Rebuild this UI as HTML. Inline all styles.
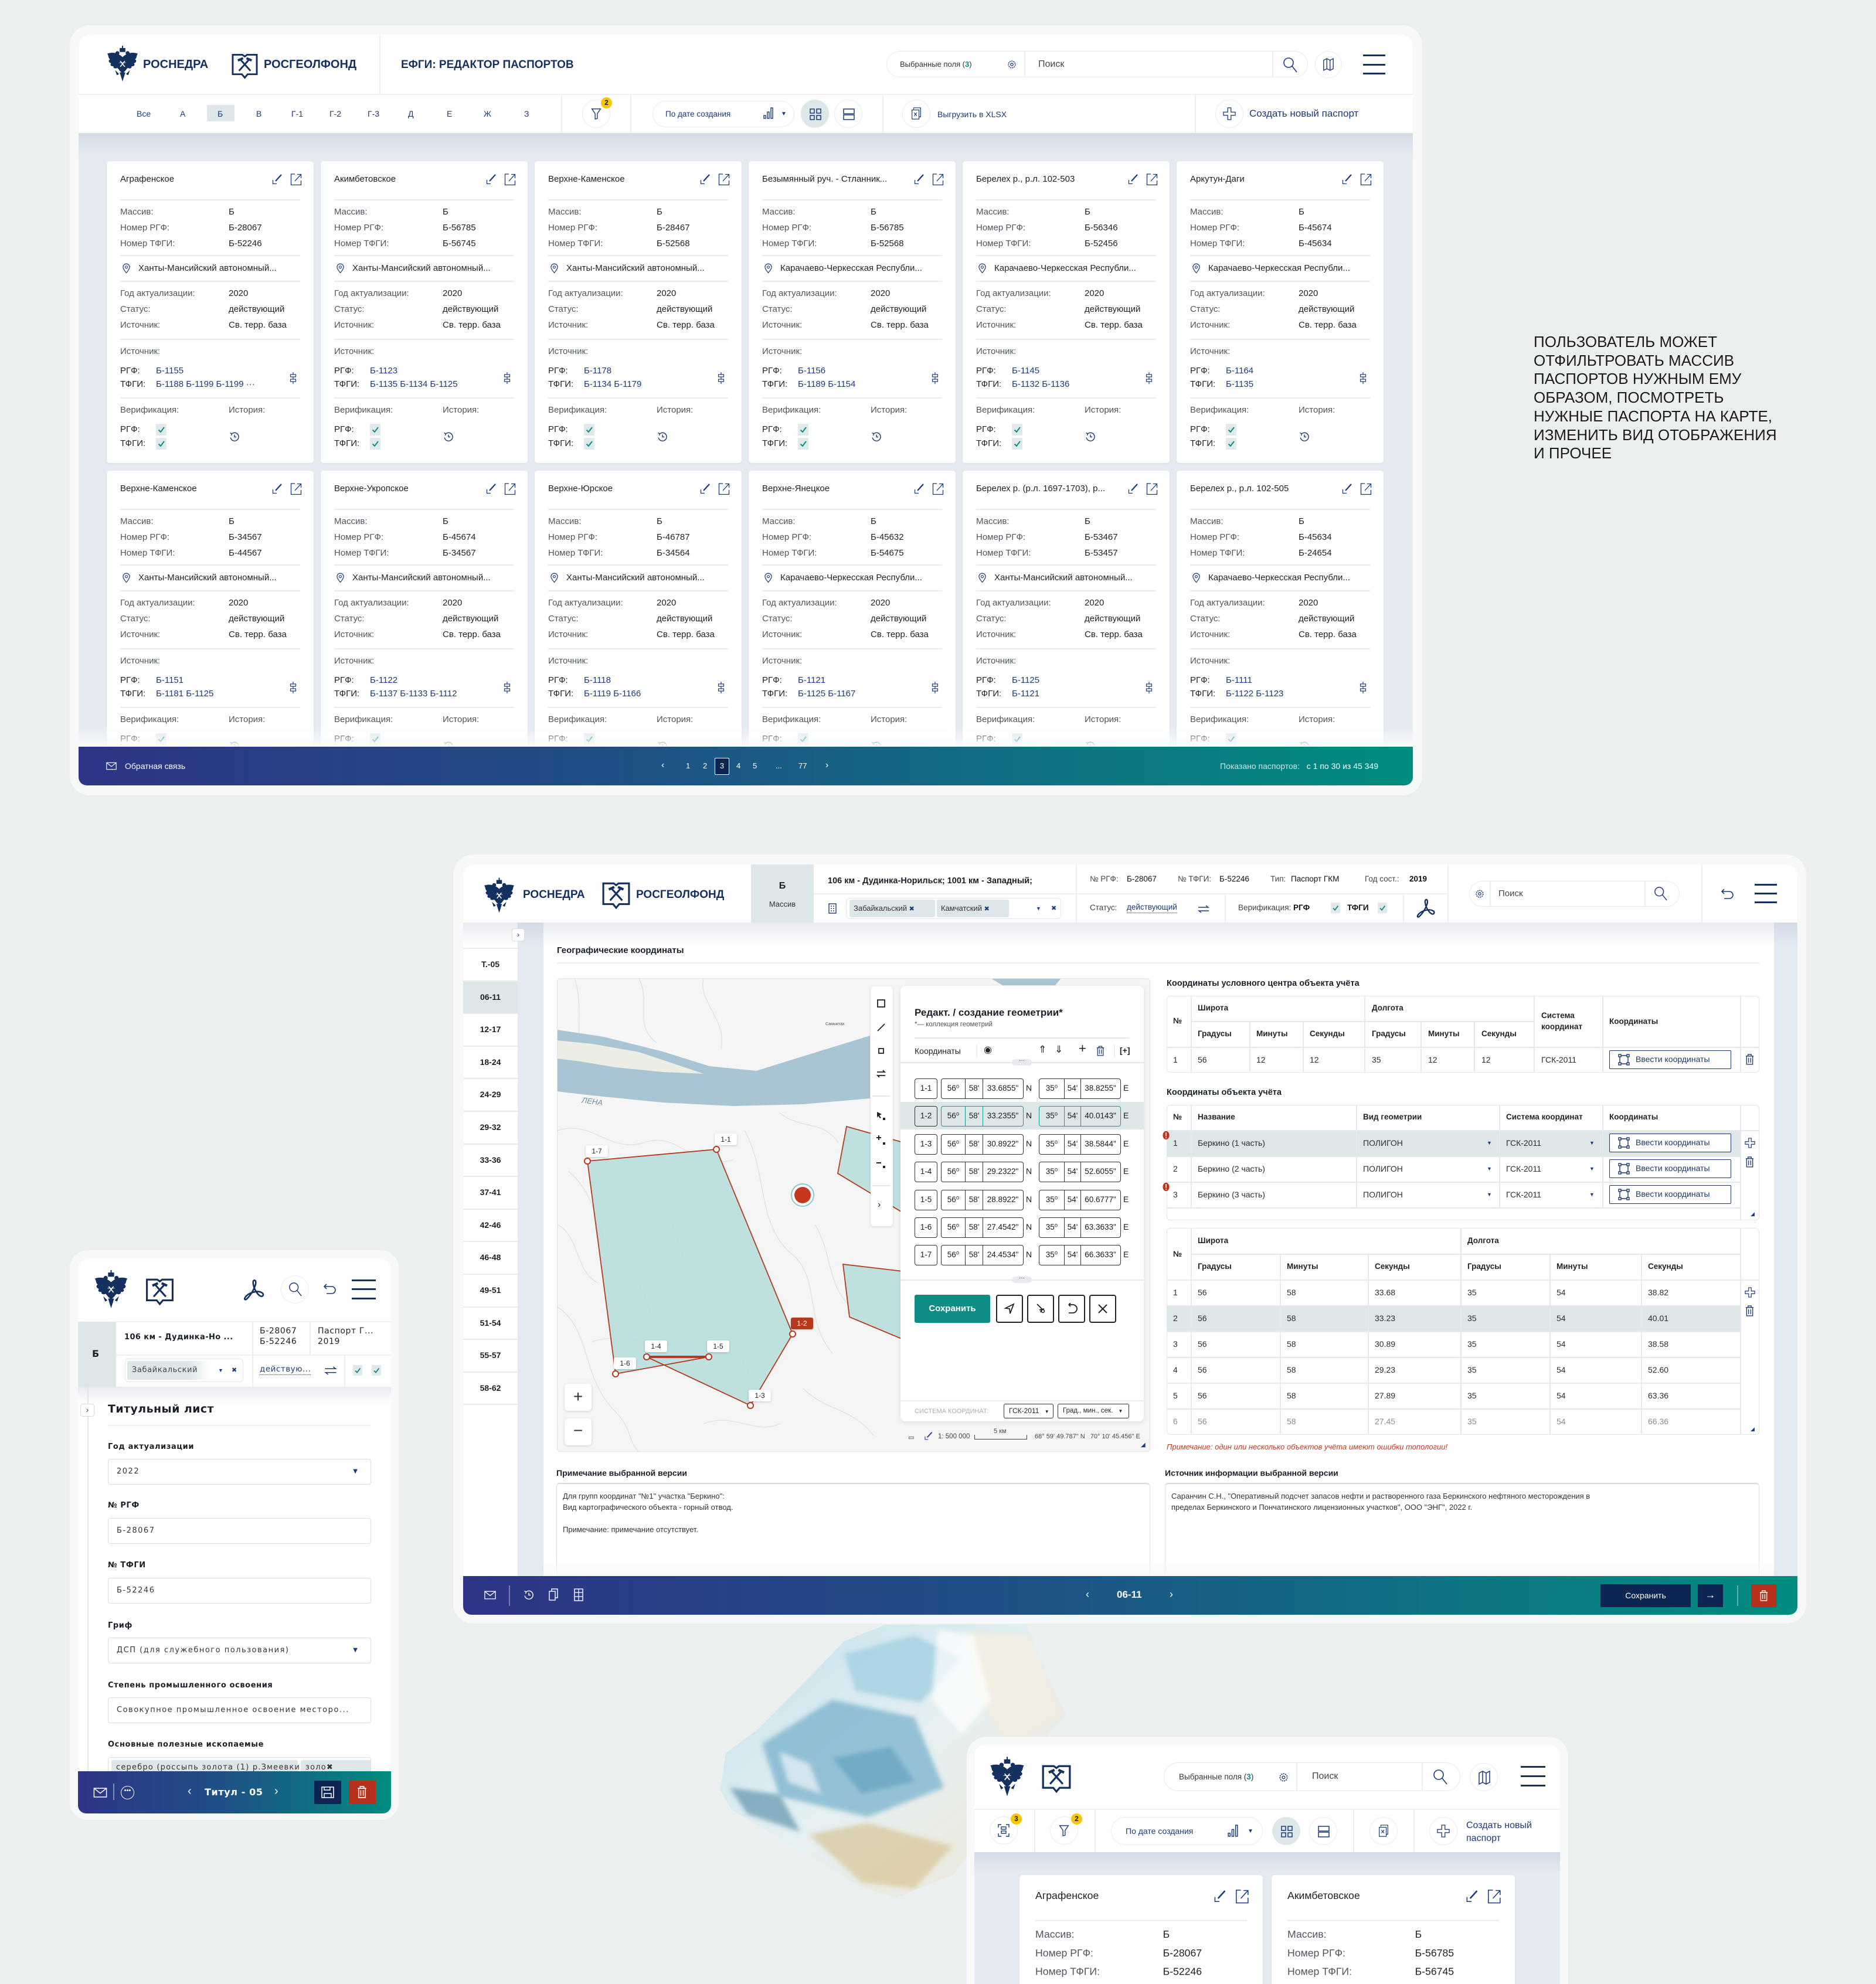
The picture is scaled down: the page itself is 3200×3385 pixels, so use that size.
<!DOCTYPE html>
<html><head><meta charset="utf-8">
<style>
*{box-sizing:border-box;margin:0;padding:0}
html,body{width:3200px;height:3385px;overflow:hidden}
body{background:#ebeff0;font-family:"Liberation Sans","DejaVu Sans",sans-serif;color:#222}
#root{position:relative;width:3200px;height:3385px;overflow:hidden;background:#ebeff0}
.a{position:absolute}
.t{position:absolute;white-space:nowrap;line-height:20px}
.nv{color:#1c3a78}
.card{position:absolute;width:353px;height:515px;background:#fff;border-radius:5px;box-shadow:0 1px 3px rgba(40,60,100,.07)}
.card>*{position:absolute;white-space:nowrap;font-size:15px;line-height:20px;font-weight:normal;margin:0}
.card .ct{left:23px;top:21px;color:#1b1f27}
.card .hl{left:23px;width:307px;height:2px;background:#e9eaed}
.h1{top:65px}.h2{top:160px}.h3{top:204px}.h4{top:303px}.h5{top:403px}
.card .l{left:23px;color:#50555d}
.card .k{left:23px;color:#1d2026}
.card .v{left:208px;color:#1d2026}
.card .lk{left:84px;color:#1c3a78}
.card .lc{left:54px;top:173px;color:#1d2026}
.ya{top:77px}.yb{top:104px}.yc{top:131px}.ye{top:216px}.yf{top:243px}.yg{top:270px}.yh{top:315px}.yi{top:348px}.yj{top:371px}.yk{top:415px}.yl{top:448px}.ym{top:472px}
.card .ie{left:281px;top:21px;width:20px;height:20px}
.card .ix{left:313px;top:20px;width:20px;height:22px}
.card .ip{left:27px;top:174px;width:13px;height:18px}
.card .is{left:311px;top:360px;width:14px;height:20px}
.card .ih{left:209px;top:461px;width:18px;height:18px}
.card .cb{left:84px;width:18px;height:20px}
.sc{transform:scale(1.176);transform-origin:0 0}
.circ{position:absolute;width:48px;height:48px;border:1.5px solid #e8ebef;border-radius:50%;background:#fff}
.circ svg{position:absolute;left:13px;top:12px;width:20px;height:22px}
.badge{position:absolute;width:19px;height:19px;border-radius:50%;background:#f6c800;font-size:12px;font-weight:bold;line-height:19px;text-align:center;color:#1b1b1b}
.vd{position:absolute;width:1.5px;background:#eceef1}
.hd{position:absolute;height:1.5px;background:#eceef1}
.ham{position:absolute;height:3px;background:#14305e}
.sb{position:absolute;left:790px;width:93px;text-align:center;font-size:14px;font-weight:bold;line-height:20px;color:#1b1f27}
.sl{position:absolute;left:790px;width:93px;height:1.5px;background:#e6e9ee}
.tx{position:absolute;white-space:nowrap;font-size:14px;line-height:18px;color:#2a2d33}
.th{font-weight:bold;color:#1f2228;font-size:13.5px}
.gl{position:absolute;background:#e5e8ee}
.vb{position:absolute;height:32px;width:208px;border:1.5px solid #1c3768;border-radius:2px;font-size:14px;color:#1c3768;line-height:29px;padding-left:44px;white-space:nowrap;background:#fff}
.vb svg{position:absolute;left:14px;top:5px;width:20px;height:20px}
.er{position:absolute;left:1560px;height:35px;width:370px;font-size:13.5px;color:#1b1b1b}
.er .b1{position:absolute;left:0;top:0;width:39px;height:35px;border:1.5px solid #333;border-radius:4px;text-align:center;line-height:32px}
.er .bx{position:absolute;top:0;height:35px;border:1.5px solid #333;border-radius:4px;display:flex;line-height:32px}
.er .bx i{font-style:normal;display:block;text-align:center;border-left:1.5px solid #333}
.er .bx i:first-child{border-left:none}
.er em{position:absolute;font-style:normal;line-height:32px;font-size:14px}
.er.hi .bx{border-color:#169a92}
.er.hi .bx i{border-color:#169a92}
.ib{position:absolute;top:2209px;width:46px;height:48px;border:2px solid #222;border-radius:4px;background:#fff}
.ib svg{position:absolute;left:11px;top:12px;width:20px;height:20px}
.lbx{position:absolute;width:38px;height:20px;background:#fff;border-radius:3px;box-shadow:0 1px 3px rgba(0,0,0,.2);font-size:12px;line-height:20px;text-align:center;color:#222}
.m{font-family:"DejaVu Sans","Liberation Sans",sans-serif}
.ml{position:absolute;left:184px;font-size:13px;font-weight:bold;letter-spacing:.6px;color:#1b1f27;white-space:nowrap;line-height:18px}
.mi{position:absolute;left:184px;width:449px;height:44px;border:1.5px solid #dadde5;border-radius:4px;background:#fff;font-size:13px;letter-spacing:1.5px;line-height:41px;padding-left:14px;color:#333;white-space:nowrap;overflow:hidden}
.dd{position:absolute;right:22px;top:0;font-size:10px;color:#1c3a78;letter-spacing:0}
</style></head><body>
<div id="root">
<svg width="0" height="0" style="position:absolute">
<defs>
<symbol id="ie" viewBox="0 0 20 20"><path d="M7 13 L17 2" stroke="#1c3a78" stroke-width="2.2" fill="none"/><path d="M2.5 11 V17.5 H9" stroke="#1c3a78" stroke-width="1.3" fill="none"/></symbol>
<symbol id="ix" viewBox="0 0 20 22"><path d="M8 2 H1.5 V20.5 H18.5 V13" stroke="#1c3a78" stroke-width="1.3" fill="none"/><path d="M8 14 L18 3 M12 2.5 H18.5 V9" stroke="#1c3a78" stroke-width="1.3" fill="none"/></symbol>
<symbol id="ip" viewBox="0 0 14 18"><path d="M7 17 C7 17 1 10.5 1 6.5 A6 6 0 0 1 13 6.5 C13 10.5 7 17 7 17Z" fill="none" stroke="#1c3a78" stroke-width="1.3"/><circle cx="7" cy="6.5" r="2.2" fill="none" stroke="#1c3a78" stroke-width="1.2"/></symbol>
<symbol id="is" viewBox="0 0 14 20"><path d="M7 0 V20" stroke="#1c3a78" stroke-width="1.2"/><rect x="2.5" y="4" width="9" height="4" fill="#fff" stroke="#1c3a78" stroke-width="1.2"/><rect x="2.5" y="12" width="9" height="4" fill="#fff" stroke="#1c3a78" stroke-width="1.2"/></symbol>
<symbol id="ih" viewBox="0 0 18 18"><path d="M4.5 4 A7 7 0 1 1 2.2 10.5" fill="none" stroke="#1c3a78" stroke-width="1.4"/><path d="M1.5 2.5 L4.5 4 L3.5 7" fill="none" stroke="#1c3a78" stroke-width="1.4"/><path d="M9 5.5 V9.5 H12" fill="none" stroke="#1c3a78" stroke-width="1.4"/></symbol>
<symbol id="cb" viewBox="0 0 18 20"><rect width="18" height="20" fill="#e2e9ed"/><path d="M4.5 10.5 L8 14 L14 6" fill="none" stroke="#0b8f85" stroke-width="2"/></symbol>
<symbol id="eagle" viewBox="0 0 60 64"><g fill="#14305e"><path d="M30 20 C24 14 14 10 3 14 C6 17 4 21 8 24 C4 26 6 30 10 31 C7 34 10 37 14 36 C13 40 18 41 21 39 C22 42 26 42 28 40 Z"/><path transform="translate(60,0) scale(-1,1)" d="M30 20 C24 14 14 10 3 14 C6 17 4 21 8 24 C4 26 6 30 10 31 C7 34 10 37 14 36 C13 40 18 41 21 39 C22 42 26 42 28 40 Z"/><circle cx="21" cy="13" r="3.5"/><circle cx="39" cy="13" r="3.5"/><path d="M25 4 H35 V11 H25 Z"/><rect x="29" y="0" width="2" height="5"/><path d="M22 21 H38 V37 C38 44 30 48 30 48 C30 48 22 44 22 37 Z"/><path d="M25 47 L30 63 L35 47 Z"/><path d="M17 43 L24 50 L20 52 Z M43 43 L36 50 L40 52 Z"/></g><path d="M26 27 L34 37 M34 27 L26 37" stroke="#fff" stroke-width="1.6"/><path d="M24 30 H36" stroke="#fff" stroke-width=".8"/></symbol>
<symbol id="rgf" viewBox="0 0 46 46"><path d="M2 3 H19 L23 6 L27 3 H44 V37 H28 L23 43 L18 37 H2 Z" fill="none" stroke="#14305e" stroke-width="3"/><path d="M13 31 L30 12 M33 31 L16 12" stroke="#14305e" stroke-width="3"/><path d="M26 9 L35 13 M11 13 L20 9" stroke="#14305e" stroke-width="4"/></symbol>
<symbol id="srch" viewBox="0 0 26 28"><circle cx="10" cy="10" r="8" fill="none" stroke="#1c3a78" stroke-width="1.6"/><path d="M16 16 L24 26" stroke="#1c3a78" stroke-width="1.6"/></symbol>
<symbol id="map" viewBox="0 0 22 24"><path d="M2 4 L8 1 L14 4 L20 1 V20 L14 23 L8 20 L2 23Z M8 1 V20 M14 4 V23" fill="none" stroke="#1c3a78" stroke-width="1.5"/></symbol>
<symbol id="gear" viewBox="0 0 16 16"><circle cx="8" cy="8" r="5.8" fill="none" stroke="#1c3a78" stroke-width="1.6" stroke-dasharray="2 1.3"/><circle cx="8" cy="8" r="2.2" fill="none" stroke="#1c3a78" stroke-width="1.3"/></symbol>
<symbol id="flt" viewBox="0 0 20 24"><path d="M2 3 H18 L12 12 V21 L8 22 V12 Z" fill="none" stroke="#1c3a78" stroke-width="1.5"/></symbol>
<symbol id="grid" viewBox="0 0 20 20"><g fill="none" stroke="#1c3a78" stroke-width="1.5"><rect x="1" y="1" width="7" height="7"/><rect x="12" y="1" width="7" height="7"/><rect x="1" y="12" width="7" height="7"/><rect x="12" y="12" width="7" height="7"/></g></symbol>
<symbol id="list" viewBox="0 0 20 20"><g fill="none" stroke="#1c3a78" stroke-width="1.5"><rect x="1" y="1" width="18" height="8"/><rect x="1" y="11" width="18" height="8"/></g></symbol>
<symbol id="xls" viewBox="0 0 20 24"><g fill="none" stroke="#1c3a78" stroke-width="1.3"><path d="M5 4 V1 H18 V18 H15"/><rect x="2" y="5" width="13" height="17"/><path d="M6 10 L11 16 M11 10 L6 16"/></g></symbol>
<symbol id="plus" viewBox="0 0 24 24"><path d="M9 1 H15 V9 H23 V15 H15 V23 H9 V15 H1 V9 H9 Z" fill="none" stroke="#1c3a78" stroke-width="1.4"/></symbol>
<symbol id="bars" viewBox="0 0 18 20"><g fill="none" stroke="#1c3a78" stroke-width="1.4"><rect x="1" y="14" width="3" height="5"/><rect x="7" y="8" width="3" height="11"/><rect x="13" y="1" width="3" height="18"/></g></symbol>
<symbol id="env" viewBox="0 0 22 16"><rect x="1" y="1" width="20" height="14" fill="none" stroke="#fff" stroke-width="1.4"/><path d="M1 1 L11 9 L21 1" fill="none" stroke="#fff" stroke-width="1.4"/></symbol>
<symbol id="trash" viewBox="0 0 16 20"><g fill="none" stroke="#1c3a78" stroke-width="1.4"><path d="M1 4 H15 M5 4 V1 H11 V4"/><rect x="2.5" y="4" width="11" height="15"/><path d="M6 7 V16 M10 7 V16"/></g></symbol>
<symbol id="trashw" viewBox="0 0 16 20"><g fill="none" stroke="#fff" stroke-width="1.5"><path d="M1 4 H15 M5 4 V1 H11 V4"/><rect x="2.5" y="4" width="11" height="15"/><path d="M6 7 V16 M10 7 V16"/></g></symbol>
<symbol id="undo" viewBox="0 0 24 22"><path d="M6 2 L2 6 L6 10 M2 6 H15 A6 6 0 0 1 15 18 H6" fill="none" stroke="#1c3a78" stroke-width="1.6"/></symbol>
<symbol id="pdf" viewBox="0 0 40 40"><path d="M7 37 C1 39 5 29 18 25 C31 21 39 27 35 31 C31 35 21 23 19 11 C17 2 25 2 23 11 C21 19 14 31 7 37Z" fill="none" stroke="#14305e" stroke-width="2.6"/></symbol>
<symbol id="swap" viewBox="0 0 20 14"><path d="M1 4 H18 L14 1 M19 10 H2 L6 13" fill="none" stroke="#1c3a78" stroke-width="1.4"/></symbol>
<symbol id="bld" viewBox="0 0 14 18"><rect x="1" y="1" width="12" height="16" fill="none" stroke="#1c3a78" stroke-width="1.4"/><path d="M4 5 H6 M8 5 H10 M4 9 H6 M8 9 H10 M4 13 H6 M8 13 H10" stroke="#1c3a78" stroke-width="1.6"/></symbol>
<symbol id="vk" viewBox="0 0 20 20"><g fill="none" stroke="#1c3768" stroke-width="1.4"><rect x="1" y="1" width="4" height="4"/><rect x="15" y="1" width="4" height="4"/><rect x="1" y="15" width="4" height="4"/><rect x="15" y="15" width="4" height="4"/><path d="M5 3 H15 M5 17 H15 M3 5 V15 M17 5 V15"/></g></symbol>
<symbol id="err" viewBox="0 0 14 18"><ellipse cx="7" cy="9" rx="6.5" ry="8.5" fill="#c2331b"/><path d="M7 3.5 V11" stroke="#fff" stroke-width="2"/><circle cx="7" cy="14" r="1.2" fill="#fff"/></symbol>
<symbol id="plusn" viewBox="0 0 20 20"><path d="M7.5 1 H12.5 V7.5 H19 V12.5 H12.5 V19 H7.5 V12.5 H1 V7.5 H7.5 Z" fill="none" stroke="#1c3a78" stroke-width="1.3"/></symbol>
</defs></svg>

<!-- ================= WINDOW 1 ================= -->
<div class="a" style="left:119px;top:43px;width:2307px;height:1314px;background:#f7f8f8;border-radius:34px"></div>
<div class="a" style="left:134px;top:59px;width:2276px;height:168px;background:#fff;border-radius:20px 20px 0 0"></div>
<div class="hd" style="left:134px;top:160px;width:2276px"></div>
<div class="vd" style="left:647px;top:59px;height:101px"></div>
<svg class="a" style="left:180px;top:78px;width:58px;height:62px"><use href="#eagle"/></svg>
<div class="t" style="left:244px;top:98px;font-size:20px;line-height:24px;font-weight:bold;color:#14305e">РОСНЕДРА</div>
<svg class="a" style="left:395px;top:90px;width:45px;height:46px"><use href="#rgf"/></svg>
<div class="t" style="left:450px;top:98px;font-size:20px;line-height:24px;font-weight:bold;color:#14305e">РОСГЕОЛФОНД</div>
<div class="t" style="left:684px;top:99px;font-size:19px;line-height:24px;font-weight:bold;color:#14305e">ЕФГИ: РЕДАКТОР ПАСПОРТОВ</div>
<div class="a" style="left:1512px;top:87px;width:719px;height:45px;border:1.5px solid #e6e9ee;border-radius:23px"></div>
<div class="t" style="left:1535px;top:100px;font-size:13px;color:#333">Выбранные поля (<span style="color:#0b8f85;font-weight:bold">3</span>)</div>
<svg class="a" style="left:1718px;top:102px;width:16px;height:16px"><use href="#gear"/></svg>
<div class="vd" style="left:1747px;top:88px;height:43px"></div>
<div class="t" style="left:1771px;top:100px;font-size:16px;color:#444">Поиск</div>
<div class="vd" style="left:2170px;top:88px;height:43px"></div>
<svg class="a" style="left:2188px;top:97px;width:26px;height:28px"><use href="#srch"/></svg>
<div class="circ" style="left:2243px;top:87px;width:46px;height:46px"><svg style="left:12px;top:11px"><use href="#map"/></svg></div>
<div class="ham" style="left:2325px;top:93px;width:38px"></div><div class="ham" style="left:2325px;top:109px;width:38px"></div><div class="ham" style="left:2325px;top:124px;width:38px"></div>
<!-- toolbar -->
<div class="a" style="left:353px;top:179px;width:47px;height:28px;background:#dde6e8"></div>
<div class="t nv" style="left:233px;top:184px;font-size:14px">Все</div>
<div class="t nv" style="left:307px;top:184px;font-size:14px">А</div>
<div class="t nv" style="left:371px;top:184px;font-size:14px">Б</div>
<div class="t nv" style="left:437px;top:184px;font-size:14px">В</div>
<div class="t nv" style="left:497px;top:184px;font-size:14px">Г-1</div>
<div class="t nv" style="left:562px;top:184px;font-size:14px">Г-2</div>
<div class="t nv" style="left:627px;top:184px;font-size:14px">Г-3</div>
<div class="t nv" style="left:696px;top:184px;font-size:14px">Д</div>
<div class="t nv" style="left:762px;top:184px;font-size:14px">Е</div>
<div class="t nv" style="left:825px;top:184px;font-size:14px">Ж</div>
<div class="t nv" style="left:894px;top:184px;font-size:14px">З</div>
<div class="vd" style="left:957px;top:162px;height:65px"></div>
<div class="circ" style="left:993px;top:170px"><svg><use href="#flt"/></svg></div>
<div class="badge" style="left:1025px;top:166px">2</div>
<div class="vd" style="left:1075px;top:162px;height:65px"></div>
<div class="a" style="left:1113px;top:172px;width:242px;height:45px;border:1.5px solid #e8ebef;border-radius:23px"></div>
<div class="t nv" style="left:1135px;top:185px;font-size:13.5px">По дате создания</div>
<svg class="a" style="left:1302px;top:183px;width:18px;height:20px"><use href="#bars"/></svg>
<div class="t nv" style="left:1332px;top:185px;font-size:10px">▼</div>
<div class="circ" style="left:1366px;top:170px;background:#dde6e8;border-color:#dde6e8"><svg style="left:14px;top:14px;width:20px;height:20px"><use href="#grid"/></svg></div>
<div class="circ" style="left:1423px;top:170px"><svg style="left:14px;top:14px;width:20px;height:20px"><use href="#list"/></svg></div>
<div class="vd" style="left:1505px;top:162px;height:65px"></div>
<div class="circ" style="left:1539px;top:170px"><svg><use href="#xls"/></svg></div>
<div class="t nv" style="left:1599px;top:185px;font-size:14px">Выгрузить в XLSX</div>
<div class="vd" style="left:2038px;top:162px;height:65px"></div>
<div class="circ" style="left:2073px;top:170px"><svg style="left:12px;top:12px;width:22px;height:22px"><use href="#plus"/></svg></div>
<div class="t nv" style="left:2131px;top:183px;font-size:17px;line-height:22px">Создать новый паспорт</div>
<!-- card area -->
<div class="a" style="left:134px;top:227px;width:2276px;height:1047px;background:#e6ebf2"></div>
<div class="a" style="left:134px;top:227px;width:2276px;height:40px;background:linear-gradient(#d3dbe6,#e6ebf2)"></div>

<div class="card" style="left:182px;top:275px"><b class="ct">Аграфенское</b><svg class="ie"><use href="#ie"/></svg><svg class="ix"><use href="#ix"/></svg><i class="hl h1"></i><p class="l ya">Массив:</p><p class="v ya">Б</p><p class="l yb">Номер РГФ:</p><p class="v yb">Б-28067</p><p class="l yc">Номер ТФГИ:</p><p class="v yc">Б-52246</p><i class="hl h2"></i><svg class="ip"><use href="#ip"/></svg><p class="lc">Ханты-Мансийский автономный...</p><i class="hl h3"></i><p class="l ye">Год актуализации:</p><p class="v ye">2020</p><p class="l yf">Статус:</p><p class="v yf">действующий</p><p class="l yg">Источник:</p><p class="v yg">Св. терр. база</p><i class="hl h4"></i><p class="l yh">Источник:</p><p class="k yi">РГФ:</p><p class="lk yi">Б-1155</p><p class="k yj">ТФГИ:</p><p class="lk yj">Б-1188 Б-1199 Б-1199 ···</p><svg class="is"><use href="#is"/></svg><i class="hl h5"></i><p class="l yk">Верификация:</p><p class="l yk" style="left:208px">История:</p><p class="k yl">РГФ:</p><svg class="cb yl"><use href="#cb"/></svg><p class="k ym">ТФГИ:</p><svg class="cb ym"><use href="#cb"/></svg><svg class="ih"><use href="#ih"/></svg></div>

<div class="card" style="left:547px;top:275px"><b class="ct">Акимбетовское</b><svg class="ie"><use href="#ie"/></svg><svg class="ix"><use href="#ix"/></svg><i class="hl h1"></i><p class="l ya">Массив:</p><p class="v ya">Б</p><p class="l yb">Номер РГФ:</p><p class="v yb">Б-56785</p><p class="l yc">Номер ТФГИ:</p><p class="v yc">Б-56745</p><i class="hl h2"></i><svg class="ip"><use href="#ip"/></svg><p class="lc">Ханты-Мансийский автономный...</p><i class="hl h3"></i><p class="l ye">Год актуализации:</p><p class="v ye">2020</p><p class="l yf">Статус:</p><p class="v yf">действующий</p><p class="l yg">Источник:</p><p class="v yg">Св. терр. база</p><i class="hl h4"></i><p class="l yh">Источник:</p><p class="k yi">РГФ:</p><p class="lk yi">Б-1123</p><p class="k yj">ТФГИ:</p><p class="lk yj">Б-1135 Б-1134 Б-1125</p><svg class="is"><use href="#is"/></svg><i class="hl h5"></i><p class="l yk">Верификация:</p><p class="l yk" style="left:208px">История:</p><p class="k yl">РГФ:</p><svg class="cb yl"><use href="#cb"/></svg><p class="k ym">ТФГИ:</p><svg class="cb ym"><use href="#cb"/></svg><svg class="ih"><use href="#ih"/></svg></div>

<div class="card" style="left:912px;top:275px"><b class="ct">Верхне-Каменское</b><svg class="ie"><use href="#ie"/></svg><svg class="ix"><use href="#ix"/></svg><i class="hl h1"></i><p class="l ya">Массив:</p><p class="v ya">Б</p><p class="l yb">Номер РГФ:</p><p class="v yb">Б-28467</p><p class="l yc">Номер ТФГИ:</p><p class="v yc">Б-52568</p><i class="hl h2"></i><svg class="ip"><use href="#ip"/></svg><p class="lc">Ханты-Мансийский автономный...</p><i class="hl h3"></i><p class="l ye">Год актуализации:</p><p class="v ye">2020</p><p class="l yf">Статус:</p><p class="v yf">действующий</p><p class="l yg">Источник:</p><p class="v yg">Св. терр. база</p><i class="hl h4"></i><p class="l yh">Источник:</p><p class="k yi">РГФ:</p><p class="lk yi">Б-1178</p><p class="k yj">ТФГИ:</p><p class="lk yj">Б-1134 Б-1179</p><svg class="is"><use href="#is"/></svg><i class="hl h5"></i><p class="l yk">Верификация:</p><p class="l yk" style="left:208px">История:</p><p class="k yl">РГФ:</p><svg class="cb yl"><use href="#cb"/></svg><p class="k ym">ТФГИ:</p><svg class="cb ym"><use href="#cb"/></svg><svg class="ih"><use href="#ih"/></svg></div>

<div class="card" style="left:1277px;top:275px"><b class="ct">Безымянный руч. - Стланник...</b><svg class="ie"><use href="#ie"/></svg><svg class="ix"><use href="#ix"/></svg><i class="hl h1"></i><p class="l ya">Массив:</p><p class="v ya">Б</p><p class="l yb">Номер РГФ:</p><p class="v yb">Б-56785</p><p class="l yc">Номер ТФГИ:</p><p class="v yc">Б-52568</p><i class="hl h2"></i><svg class="ip"><use href="#ip"/></svg><p class="lc">Карачаево-Черкесская Республи...</p><i class="hl h3"></i><p class="l ye">Год актуализации:</p><p class="v ye">2020</p><p class="l yf">Статус:</p><p class="v yf">действующий</p><p class="l yg">Источник:</p><p class="v yg">Св. терр. база</p><i class="hl h4"></i><p class="l yh">Источник:</p><p class="k yi">РГФ:</p><p class="lk yi">Б-1156</p><p class="k yj">ТФГИ:</p><p class="lk yj">Б-1189 Б-1154</p><svg class="is"><use href="#is"/></svg><i class="hl h5"></i><p class="l yk">Верификация:</p><p class="l yk" style="left:208px">История:</p><p class="k yl">РГФ:</p><svg class="cb yl"><use href="#cb"/></svg><p class="k ym">ТФГИ:</p><svg class="cb ym"><use href="#cb"/></svg><svg class="ih"><use href="#ih"/></svg></div>

<div class="card" style="left:1642px;top:275px"><b class="ct">Берелех р., р.л. 102-503</b><svg class="ie"><use href="#ie"/></svg><svg class="ix"><use href="#ix"/></svg><i class="hl h1"></i><p class="l ya">Массив:</p><p class="v ya">Б</p><p class="l yb">Номер РГФ:</p><p class="v yb">Б-56346</p><p class="l yc">Номер ТФГИ:</p><p class="v yc">Б-52456</p><i class="hl h2"></i><svg class="ip"><use href="#ip"/></svg><p class="lc">Карачаево-Черкесская Республи...</p><i class="hl h3"></i><p class="l ye">Год актуализации:</p><p class="v ye">2020</p><p class="l yf">Статус:</p><p class="v yf">действующий</p><p class="l yg">Источник:</p><p class="v yg">Св. терр. база</p><i class="hl h4"></i><p class="l yh">Источник:</p><p class="k yi">РГФ:</p><p class="lk yi">Б-1145</p><p class="k yj">ТФГИ:</p><p class="lk yj">Б-1132 Б-1136</p><svg class="is"><use href="#is"/></svg><i class="hl h5"></i><p class="l yk">Верификация:</p><p class="l yk" style="left:208px">История:</p><p class="k yl">РГФ:</p><svg class="cb yl"><use href="#cb"/></svg><p class="k ym">ТФГИ:</p><svg class="cb ym"><use href="#cb"/></svg><svg class="ih"><use href="#ih"/></svg></div>

<div class="card" style="left:2007px;top:275px"><b class="ct">Аркутун-Даги</b><svg class="ie"><use href="#ie"/></svg><svg class="ix"><use href="#ix"/></svg><i class="hl h1"></i><p class="l ya">Массив:</p><p class="v ya">Б</p><p class="l yb">Номер РГФ:</p><p class="v yb">Б-45674</p><p class="l yc">Номер ТФГИ:</p><p class="v yc">Б-45634</p><i class="hl h2"></i><svg class="ip"><use href="#ip"/></svg><p class="lc">Карачаево-Черкесская Республи...</p><i class="hl h3"></i><p class="l ye">Год актуализации:</p><p class="v ye">2020</p><p class="l yf">Статус:</p><p class="v yf">действующий</p><p class="l yg">Источник:</p><p class="v yg">Св. терр. база</p><i class="hl h4"></i><p class="l yh">Источник:</p><p class="k yi">РГФ:</p><p class="lk yi">Б-1164</p><p class="k yj">ТФГИ:</p><p class="lk yj">Б-1135</p><svg class="is"><use href="#is"/></svg><i class="hl h5"></i><p class="l yk">Верификация:</p><p class="l yk" style="left:208px">История:</p><p class="k yl">РГФ:</p><svg class="cb yl"><use href="#cb"/></svg><p class="k ym">ТФГИ:</p><svg class="cb ym"><use href="#cb"/></svg><svg class="ih"><use href="#ih"/></svg></div>

<div class="card" style="left:182px;top:803px"><b class="ct">Верхне-Каменское</b><svg class="ie"><use href="#ie"/></svg><svg class="ix"><use href="#ix"/></svg><i class="hl h1"></i><p class="l ya">Массив:</p><p class="v ya">Б</p><p class="l yb">Номер РГФ:</p><p class="v yb">Б-34567</p><p class="l yc">Номер ТФГИ:</p><p class="v yc">Б-44567</p><i class="hl h2"></i><svg class="ip"><use href="#ip"/></svg><p class="lc">Ханты-Мансийский автономный...</p><i class="hl h3"></i><p class="l ye">Год актуализации:</p><p class="v ye">2020</p><p class="l yf">Статус:</p><p class="v yf">действующий</p><p class="l yg">Источник:</p><p class="v yg">Св. терр. база</p><i class="hl h4"></i><p class="l yh">Источник:</p><p class="k yi">РГФ:</p><p class="lk yi">Б-1151</p><p class="k yj">ТФГИ:</p><p class="lk yj">Б-1181 Б-1125</p><svg class="is"><use href="#is"/></svg><i class="hl h5"></i><p class="l yk">Верификация:</p><p class="l yk" style="left:208px">История:</p><p class="k yl">РГФ:</p><svg class="cb yl"><use href="#cb"/></svg><p class="k ym">ТФГИ:</p><svg class="cb ym"><use href="#cb"/></svg><svg class="ih"><use href="#ih"/></svg></div>

<div class="card" style="left:547px;top:803px"><b class="ct">Верхне-Укропское</b><svg class="ie"><use href="#ie"/></svg><svg class="ix"><use href="#ix"/></svg><i class="hl h1"></i><p class="l ya">Массив:</p><p class="v ya">Б</p><p class="l yb">Номер РГФ:</p><p class="v yb">Б-45674</p><p class="l yc">Номер ТФГИ:</p><p class="v yc">Б-34567</p><i class="hl h2"></i><svg class="ip"><use href="#ip"/></svg><p class="lc">Ханты-Мансийский автономный...</p><i class="hl h3"></i><p class="l ye">Год актуализации:</p><p class="v ye">2020</p><p class="l yf">Статус:</p><p class="v yf">действующий</p><p class="l yg">Источник:</p><p class="v yg">Св. терр. база</p><i class="hl h4"></i><p class="l yh">Источник:</p><p class="k yi">РГФ:</p><p class="lk yi">Б-1122</p><p class="k yj">ТФГИ:</p><p class="lk yj">Б-1137 Б-1133 Б-1112</p><svg class="is"><use href="#is"/></svg><i class="hl h5"></i><p class="l yk">Верификация:</p><p class="l yk" style="left:208px">История:</p><p class="k yl">РГФ:</p><svg class="cb yl"><use href="#cb"/></svg><p class="k ym">ТФГИ:</p><svg class="cb ym"><use href="#cb"/></svg><svg class="ih"><use href="#ih"/></svg></div>

<div class="card" style="left:912px;top:803px"><b class="ct">Верхне-Юрское</b><svg class="ie"><use href="#ie"/></svg><svg class="ix"><use href="#ix"/></svg><i class="hl h1"></i><p class="l ya">Массив:</p><p class="v ya">Б</p><p class="l yb">Номер РГФ:</p><p class="v yb">Б-46787</p><p class="l yc">Номер ТФГИ:</p><p class="v yc">Б-34564</p><i class="hl h2"></i><svg class="ip"><use href="#ip"/></svg><p class="lc">Ханты-Мансийский автономный...</p><i class="hl h3"></i><p class="l ye">Год актуализации:</p><p class="v ye">2020</p><p class="l yf">Статус:</p><p class="v yf">действующий</p><p class="l yg">Источник:</p><p class="v yg">Св. терр. база</p><i class="hl h4"></i><p class="l yh">Источник:</p><p class="k yi">РГФ:</p><p class="lk yi">Б-1118</p><p class="k yj">ТФГИ:</p><p class="lk yj">Б-1119 Б-1166</p><svg class="is"><use href="#is"/></svg><i class="hl h5"></i><p class="l yk">Верификация:</p><p class="l yk" style="left:208px">История:</p><p class="k yl">РГФ:</p><svg class="cb yl"><use href="#cb"/></svg><p class="k ym">ТФГИ:</p><svg class="cb ym"><use href="#cb"/></svg><svg class="ih"><use href="#ih"/></svg></div>

<div class="card" style="left:1277px;top:803px"><b class="ct">Верхне-Янецкое</b><svg class="ie"><use href="#ie"/></svg><svg class="ix"><use href="#ix"/></svg><i class="hl h1"></i><p class="l ya">Массив:</p><p class="v ya">Б</p><p class="l yb">Номер РГФ:</p><p class="v yb">Б-45632</p><p class="l yc">Номер ТФГИ:</p><p class="v yc">Б-54675</p><i class="hl h2"></i><svg class="ip"><use href="#ip"/></svg><p class="lc">Карачаево-Черкесская Республи...</p><i class="hl h3"></i><p class="l ye">Год актуализации:</p><p class="v ye">2020</p><p class="l yf">Статус:</p><p class="v yf">действующий</p><p class="l yg">Источник:</p><p class="v yg">Св. терр. база</p><i class="hl h4"></i><p class="l yh">Источник:</p><p class="k yi">РГФ:</p><p class="lk yi">Б-1121</p><p class="k yj">ТФГИ:</p><p class="lk yj">Б-1125 Б-1167</p><svg class="is"><use href="#is"/></svg><i class="hl h5"></i><p class="l yk">Верификация:</p><p class="l yk" style="left:208px">История:</p><p class="k yl">РГФ:</p><svg class="cb yl"><use href="#cb"/></svg><p class="k ym">ТФГИ:</p><svg class="cb ym"><use href="#cb"/></svg><svg class="ih"><use href="#ih"/></svg></div>

<div class="card" style="left:1642px;top:803px"><b class="ct">Берелех р. (р.л. 1697-1703), р...</b><svg class="ie"><use href="#ie"/></svg><svg class="ix"><use href="#ix"/></svg><i class="hl h1"></i><p class="l ya">Массив:</p><p class="v ya">Б</p><p class="l yb">Номер РГФ:</p><p class="v yb">Б-53467</p><p class="l yc">Номер ТФГИ:</p><p class="v yc">Б-53457</p><i class="hl h2"></i><svg class="ip"><use href="#ip"/></svg><p class="lc">Ханты-Мансийский автономный...</p><i class="hl h3"></i><p class="l ye">Год актуализации:</p><p class="v ye">2020</p><p class="l yf">Статус:</p><p class="v yf">действующий</p><p class="l yg">Источник:</p><p class="v yg">Св. терр. база</p><i class="hl h4"></i><p class="l yh">Источник:</p><p class="k yi">РГФ:</p><p class="lk yi">Б-1125</p><p class="k yj">ТФГИ:</p><p class="lk yj">Б-1121</p><svg class="is"><use href="#is"/></svg><i class="hl h5"></i><p class="l yk">Верификация:</p><p class="l yk" style="left:208px">История:</p><p class="k yl">РГФ:</p><svg class="cb yl"><use href="#cb"/></svg><p class="k ym">ТФГИ:</p><svg class="cb ym"><use href="#cb"/></svg><svg class="ih"><use href="#ih"/></svg></div>

<div class="card" style="left:2007px;top:803px"><b class="ct">Берелех р., р.л. 102-505</b><svg class="ie"><use href="#ie"/></svg><svg class="ix"><use href="#ix"/></svg><i class="hl h1"></i><p class="l ya">Массив:</p><p class="v ya">Б</p><p class="l yb">Номер РГФ:</p><p class="v yb">Б-45634</p><p class="l yc">Номер ТФГИ:</p><p class="v yc">Б-24654</p><i class="hl h2"></i><svg class="ip"><use href="#ip"/></svg><p class="lc">Карачаево-Черкесская Республи...</p><i class="hl h3"></i><p class="l ye">Год актуализации:</p><p class="v ye">2020</p><p class="l yf">Статус:</p><p class="v yf">действующий</p><p class="l yg">Источник:</p><p class="v yg">Св. терр. база</p><i class="hl h4"></i><p class="l yh">Источник:</p><p class="k yi">РГФ:</p><p class="lk yi">Б-1111</p><p class="k yj">ТФГИ:</p><p class="lk yj">Б-1122 Б-1123</p><svg class="is"><use href="#is"/></svg><i class="hl h5"></i><p class="l yk">Верификация:</p><p class="l yk" style="left:208px">История:</p><p class="k yl">РГФ:</p><svg class="cb yl"><use href="#cb"/></svg><p class="k ym">ТФГИ:</p><svg class="cb ym"><use href="#cb"/></svg><svg class="ih"><use href="#ih"/></svg></div>

<div class="a" style="left:134px;top:1240px;width:2276px;height:34px;background:linear-gradient(rgba(255,255,255,0),rgba(250,251,252,.95))"></div>
<div class="a" style="left:134px;top:1274px;width:2276px;height:66px;background:linear-gradient(90deg,#2e3586,#1f4f86 40%,#0e7583 75%,#008c80);border-radius:0 0 14px 14px"></div>
<svg class="a" style="left:181px;top:1300px;width:18px;height:14px"><use href="#env"/></svg>
<div class="t" style="left:213px;top:1297px;font-size:14px;color:#fff">Обратная связь</div>
<div class="t" style="left:1128px;top:1296px;font-size:16px;color:#fff">‹</div>
<div class="t" style="left:1170px;top:1297px;font-size:13px;color:#fff">1</div>
<div class="t" style="left:1199px;top:1297px;font-size:13px;color:#fff">2</div>
<div class="a" style="left:1219px;top:1293px;width:25px;height:29px;background:#0c2450;border:1.5px solid #fff;border-radius:2px;color:#fff;font-size:13px;line-height:26px;text-align:center">3</div>
<div class="t" style="left:1256px;top:1297px;font-size:13px;color:#fff">4</div>
<div class="t" style="left:1284px;top:1297px;font-size:13px;color:#fff">5</div>
<div class="t" style="left:1323px;top:1297px;font-size:13px;color:#fff">...</div>
<div class="t" style="left:1362px;top:1297px;font-size:13px;color:#fff">77</div>
<div class="t" style="left:1408px;top:1296px;font-size:16px;color:#fff">›</div>
<div class="t" style="left:2081px;top:1297px;font-size:14px;color:rgba(255,255,255,.8)">Показано паспортов: <span style="color:#fff">&nbsp;&nbsp;с 1 по 30 из 45 349</span></div>

<!-- right description -->
<div class="a" style="left:2616px;top:568px;width:520px;font-size:26px;line-height:31.7px;color:#1b1b1b;white-space:nowrap">ПОЛЬЗОВАТЕЛЬ МОЖЕТ<br>ОТФИЛЬТРОВАТЬ МАССИВ<br>ПАСПОРТОВ НУЖНЫМ ЕМУ<br>ОБРАЗОМ, ПОСМОТРЕТЬ<br>НУЖНЫЕ ПАСПОРТА НА КАРТЕ,<br>ИЗМЕНИТЬ ВИД ОТОБРАЖЕНИЯ<br>И ПРОЧЕЕ</div>

<!-- ================= ROCK ================= -->
<svg class="a" style="left:1220px;top:2772px;width:610px;height:480px" viewBox="1220 2772 610 480">
<defs><linearGradient id="rk" x1="0" y1="0" x2="1" y2="1"><stop offset="0" stop-color="#bfe0ec"/><stop offset=".5" stop-color="#e6f0f2"/><stop offset="1" stop-color="#efe6d2"/></linearGradient>
<filter id="bl" x="-10%" y="-10%" width="120%" height="120%"><feGaussianBlur stdDeviation="4"/></filter></defs>
<path d="M1390 2852 L1440 2800 L1510 2772 L1751 2772 L1796 2880 L1818 2927 L1760 2990 L1700 3100 L1626 3198 L1528 3238 L1466 3218 L1367 3159 L1247 3087 L1229 3055 L1238 2991 L1292 2951 Z" fill="url(#rk)"/>
<clipPath id="rc"><path d="M1390 2852 L1440 2800 L1510 2772 L1751 2772 L1796 2880 L1818 2927 L1760 2990 L1700 3100 L1626 3198 L1528 3238 L1466 3218 L1367 3159 L1247 3087 L1229 3055 L1238 2991 L1292 2951 Z"/></clipPath>
<g clip-path="url(#rc)" filter="url(#bl)">
<path d="M1300 2975 L1420 2900 L1560 2930 L1610 3050 L1480 3100 L1330 3065 Z" fill="#78b2cc" opacity=".75"/>
<path d="M1440 2822 L1560 2790 L1640 2830 L1570 2905 L1460 2885 Z" fill="#9fcde0" opacity=".75"/>
<path d="M1245 3050 L1330 3062 L1365 3125 L1275 3095 Z" fill="#3e7b9a" opacity=".55"/>
<path d="M1420 3000 L1520 2980 L1560 3040 L1470 3060 Z" fill="#5c9bbb" opacity=".6"/>
<path d="M1380 3130 L1480 3110 L1625 3150 L1560 3222 L1470 3212 Z" fill="#d4b982" opacity=".55"/>
<path d="M1650 2785 L1755 2790 L1812 2925 L1720 2985 L1665 2880 Z" fill="#f2ece0" opacity=".9"/>
<path d="M1600 2780 L1660 2790 L1690 2900 L1640 2960 L1590 2900 Z" fill="#ffffff" opacity=".7"/>
<path d="M1330 2990 L1380 3010 L1400 3060 L1345 3040 Z" fill="#ffffff" opacity=".6"/>
</g>
</svg>

<!-- ================= WINDOW 2 ================= -->
<div class="a" style="left:773px;top:1458px;width:2308px;height:1312px;background:#f7f8f8;border-radius:34px"></div>
<div class="a" style="left:790px;top:1475px;width:2276px;height:99px;background:#fff;border-radius:18px 18px 0 0"></div>
<div class="a" style="left:790px;top:1574px;width:93px;height:1115px;background:#fff"></div>
<div class="a" style="left:883px;top:1574px;width:44px;height:1115px;background:#e4eaf2"></div>
<div class="a" style="left:927px;top:1574px;width:2099px;height:1115px;background:#fff"></div>
<div class="a" style="left:3026px;top:1574px;width:40px;height:1115px;background:#e4eaf2"></div>
<div class="a" style="left:790px;top:1574px;width:2276px;height:40px;background:linear-gradient(rgba(150,160,185,.22),rgba(150,160,185,0))"></div>
<!-- header -->
<svg class="a" style="left:823px;top:1497px;width:57px;height:62px"><use href="#eagle"/></svg>
<div class="t" style="left:892px;top:1515px;font-size:19px;line-height:24px;font-weight:bold;color:#14305e">РОСНЕДРА</div>
<svg class="a" style="left:1027px;top:1504px;width:48px;height:48px"><use href="#rgf"/></svg>
<div class="t" style="left:1085px;top:1515px;font-size:19px;line-height:24px;font-weight:bold;color:#14305e">РОСГЕОЛФОНД</div>
<div class="a" style="left:1281px;top:1475px;width:107px;height:99px;background:#dde6e8"></div>
<div class="t" style="left:1281px;width:107px;text-align:center;top:1502px;font-size:16px;font-weight:bold;color:#1b1f27">Б</div>
<div class="t" style="left:1281px;width:107px;text-align:center;top:1533px;font-size:13px;color:#333">Массив</div>
<div class="t" style="left:1412px;top:1493px;font-size:14.5px;font-weight:bold;color:#1b1f27">106 км - Дудинка-Норильск; 1001 км - Западный;</div>
<div class="hd" style="left:1388px;top:1524px;width:1081px"></div>
<div class="vd" style="left:1835px;top:1475px;height:99px"></div>
<svg class="a" style="left:1413px;top:1541px;width:14px;height:18px"><use href="#bld"/></svg>
<div class="a" style="left:1443px;top:1532px;width:367px;height:36px;border:1px solid #e3e6ea;border-radius:6px"></div>
<div class="a" style="left:1449px;top:1535px;width:146px;height:30px;background:#dde6e8;border-radius:3px"></div>
<div class="a" style="left:1598px;top:1535px;width:123px;height:30px;background:#dde6e8;border-radius:3px"></div>
<div class="t" style="left:1456px;top:1540px;font-size:13px;color:#333">Забайкальский <span style="color:#1c3a78;font-size:11px">✖</span></div>
<div class="t" style="left:1605px;top:1540px;font-size:13px;color:#333">Камчатский <span style="color:#1c3a78;font-size:11px">✖</span></div>
<div class="t" style="left:1767px;top:1540px;font-size:9px;color:#1c3a78">▼</div>
<div class="t" style="left:1793px;top:1540px;font-size:11px;color:#1c3a78">✖</div>
<div class="t" style="left:1859px;top:1490px;font-size:13.5px;color:#444">№ РГФ:</div>
<div class="t" style="left:1922px;top:1490px;font-size:13.5px;color:#111">Б-28067</div>
<div class="t" style="left:2009px;top:1490px;font-size:13.5px;color:#444">№ ТФГИ:</div>
<div class="t" style="left:2080px;top:1490px;font-size:13.5px;color:#111">Б-52246</div>
<div class="t" style="left:2167px;top:1490px;font-size:13.5px;color:#444">Тип:</div>
<div class="t" style="left:2202px;top:1490px;font-size:13.5px;color:#111">Паспорт ГКМ</div>
<div class="t" style="left:2328px;top:1490px;font-size:13.5px;color:#444">Год сост.:</div>
<div class="t" style="left:2404px;top:1490px;font-size:13.5px;color:#111;font-weight:bold">2019</div>
<div class="t" style="left:1859px;top:1539px;font-size:13.5px;color:#444">Статус:</div>
<div class="t" style="left:1922px;top:1539px;font-size:13.5px;color:#1c3a78;border-bottom:1.5px dotted #1c3a78;line-height:18px">действующий</div>
<svg class="a" style="left:2043px;top:1544px;width:20px;height:14px"><use href="#swap"/></svg>
<div class="vd" style="left:2089px;top:1525px;height:49px"></div>
<div class="t" style="left:2112px;top:1539px;font-size:13.5px;color:#444">Верификация: <b style="color:#111">РГФ</b></div>
<svg class="a" style="left:2270px;top:1540px;width:16px;height:18px"><use href="#cb"/></svg>
<div class="t" style="left:2298px;top:1539px;font-size:13.5px;color:#111;font-weight:bold">ТФГИ</div>
<svg class="a" style="left:2350px;top:1540px;width:16px;height:18px"><use href="#cb"/></svg>
<div class="vd" style="left:2393px;top:1525px;height:49px"></div>
<svg class="a" style="left:2414px;top:1529px;width:36px;height:40px"><use href="#pdf"/></svg>
<div class="vd" style="left:2469px;top:1475px;height:99px"></div>
<div class="a" style="left:2506px;top:1503px;width:359px;height:44px;border:1.5px solid #e6e9ee;border-radius:22px"></div>
<svg class="a" style="left:2516px;top:1517px;width:16px;height:16px"><use href="#gear"/></svg>
<div class="vd" style="left:2541px;top:1504px;height:42px"></div>
<div class="t" style="left:2556px;top:1515px;font-size:15px;color:#444">Поиск</div>
<div class="vd" style="left:2805px;top:1504px;height:42px"></div>
<svg class="a" style="left:2821px;top:1512px;width:24px;height:26px"><use href="#srch"/></svg>
<div class="vd" style="left:2902px;top:1475px;height:99px"></div>
<svg class="a" style="left:2935px;top:1515px;width:24px;height:22px"><use href="#undo"/></svg>
<div class="ham" style="left:2993px;top:1508px;width:38px"></div><div class="ham" style="left:2993px;top:1523px;width:38px"></div><div class="ham" style="left:2993px;top:1538px;width:38px"></div>
<!-- sidebar -->
<div class="a" style="left:873px;top:1584px;width:22px;height:22px;background:#fff;border:1px solid #d6dbe3;border-radius:4px;font-size:13px;line-height:19px;text-align:center;color:#1c3a78">›</div>
<div class="a" style="left:790px;top:1673px;width:93px;height:55px;background:#dde6e8"></div>
<div class="sl" style="top:1617px"></div><div class="sl" style="top:1673px"></div><div class="sl" style="top:1728px"></div><div class="sl" style="top:1784px"></div><div class="sl" style="top:1839px"></div><div class="sl" style="top:1895px"></div><div class="sl" style="top:1951px"></div><div class="sl" style="top:2006px"></div><div class="sl" style="top:2062px"></div><div class="sl" style="top:2117px"></div><div class="sl" style="top:2173px"></div><div class="sl" style="top:2229px"></div><div class="sl" style="top:2284px"></div><div class="sl" style="top:2340px"></div><div class="sl" style="top:2395px"></div>
<div class="sb" style="top:1635px">Т.-05</div>
<div class="sb" style="top:1691px">06-11</div>
<div class="sb" style="top:1746px">12-17</div>
<div class="sb" style="top:1802px">18-24</div>
<div class="sb" style="top:1857px">24-29</div>
<div class="sb" style="top:1913px">29-32</div>
<div class="sb" style="top:1969px">33-36</div>
<div class="sb" style="top:2024px">37-41</div>
<div class="sb" style="top:2080px">42-46</div>
<div class="sb" style="top:2135px">46-48</div>
<div class="sb" style="top:2191px">49-51</div>
<div class="sb" style="top:2247px">51-54</div>
<div class="sb" style="top:2302px">55-57</div>
<div class="sb" style="top:2358px">58-62</div>
<!-- content -->
<div class="t" style="left:950px;top:1612px;font-size:15px;font-weight:bold;color:#1b1f27">Географические координаты</div>
<div class="hd" style="left:950px;top:1642px;width:2051px;height:2px"></div>
<!-- map -->
<div class="a" style="left:950px;top:1669px;width:1012px;height:808px;border:1.5px solid #e0e3ea;border-radius:6px;overflow:hidden;background:#f4f5f4">
<svg width="1012" height="808" viewBox="0 0 1012 808" style="position:absolute;left:-1.5px;top:-1.5px">
<g fill="none" stroke="#dfe2e2" stroke-width="1.3">
<path d="M30 0 C50 60 20 120 60 170"/><path d="M140 0 C160 40 130 80 170 110"/><path d="M250 0 C240 40 290 70 280 120"/>
<path d="M0 260 C60 240 90 300 150 280 C210 260 230 330 300 310"/><path d="M20 330 C80 380 60 450 120 500 C170 540 150 620 210 660"/>
<path d="M320 260 C360 330 340 420 400 470 C450 510 420 580 470 640"/><path d="M160 360 C220 420 200 500 260 540 C310 580 300 660 360 720"/>
<path d="M0 560 C60 600 40 680 100 740 C130 770 120 790 140 808"/><path d="M420 700 C460 740 500 730 540 780"/>
<path d="M380 230 C420 260 450 240 480 280"/><path d="M0 420 C40 440 30 500 70 520"/><path d="M250 760 C300 740 340 780 380 760"/>
<path d="M440 420 C470 470 460 520 500 560"/><path d="M60 620 C120 600 170 640 230 620"/>
</g>
<path d="M0 88 L80 100 L180 125 L260 150 L340 158 L430 130 L534 98 L534 205 L420 215 L300 218 L180 212 L60 200 L0 193 Z" fill="#a9c4d3"/>
<path d="M0 106 L60 112 L140 126 L200 146 L250 163 L180 160 L100 152 L40 142 L0 137 Z" fill="#eceee6"/>
<path d="M740 0 L860 0 L850 12 L760 12 Z" fill="#a9c4d3"/>
<text x="42" y="212" font-size="13" font-style="italic" fill="#6d8aa0" transform="rotate(8 42 212)" font-family="Liberation Sans">ЛЕНА</text>
<text x="458" y="80" font-size="7" fill="#555" font-family="Liberation Sans">Самыктах</text>
<g fill="#b9dedd" fill-opacity=".92" stroke="#b5391f" stroke-width="1.8">
<path d="M494 253 L479 333 L590 400 L590 280 Z"/>
<path d="M488 488 L499 578 L590 616 L590 500 Z"/>
<path d="M52 312 L272 292 L402 607 L330 729 L153 646 L259 646 L100 675 Z"/>
</g>
<path d="M153 646 L259 646" stroke="#b5391f" stroke-width="4"/>
<g fill="#fff" stroke="#b5391f" stroke-width="2"><circle cx="52" cy="312" r="5"/><circle cx="272" cy="292" r="5"/><circle cx="402" cy="607" r="5"/><circle cx="330" cy="729" r="5"/><circle cx="153" cy="646" r="5"/><circle cx="259" cy="646" r="5"/><circle cx="100" cy="675" r="5"/></g>
<circle cx="419" cy="370" r="19" fill="#fff" stroke="#8fc9c8" stroke-width="2"/><circle cx="419" cy="370" r="14" fill="#c7371f"/>
</svg>
<div class="lbx" style="left:48px;top:284px">1-7</div>
<div class="lbx" style="left:268px;top:264px">1-1</div>
<div class="lbx" style="left:398px;top:578px;background:#b5391f;color:#fff">1-2</div>
<div class="lbx" style="left:149px;top:617px">1-4</div>
<div class="lbx" style="left:255px;top:617px">1-5</div>
<div class="lbx" style="left:96px;top:646px">1-6</div>
<div class="lbx" style="left:326px;top:701px">1-3</div>
<div class="a" style="left:534px;top:13px;width:38px;height:409px;background:#fff;border-radius:6px;box-shadow:0 1px 4px rgba(0,0,0,.12)"></div>
<div class="a" style="left:12px;top:691px;width:46px;height:46px;background:#fff;border-radius:6px;box-shadow:0 1px 4px rgba(0,0,0,.15);font-size:28px;line-height:44px;text-align:center;color:#333">+</div>
<div class="a" style="left:12px;top:750px;width:46px;height:46px;background:#fff;border-radius:6px;box-shadow:0 1px 4px rgba(0,0,0,.15);font-size:28px;line-height:42px;text-align:center;color:#333">−</div>
</div>
<!-- map toolbar icons -->
<svg class="a" style="left:1494px;top:1703px;width:18px;height:140px" viewBox="0 0 18 140"><g fill="none" stroke="#222" stroke-width="1.8"><rect x="3" y="3" width="12" height="12"/><path d="M3 56 L15 44"/><rect x="5" y="86" width="8" height="8"/><path d="M2 126 H15 L12 123 M16 132 H3 L6 135"/></g></svg>
<div class="a" style="left:1488px;top:1869px;width:30px;height:1.5px;background:#e3e6ea"></div>
<svg class="a" style="left:1494px;top:1895px;width:18px;height:100px" viewBox="0 0 18 100"><g fill="#222"><path d="M2 2 L10 6 L6 8 L9 12 L7 13 L4 9 L2 12 Z"/><rect x="12" y="12" width="4" height="4"/><rect x="1" y="45" width="8" height="2"/><rect x="4" y="42" width="2" height="8"/><rect x="12" y="54" width="4" height="4"/><rect x="1" y="88" width="8" height="2"/><rect x="12" y="94" width="4" height="4"/></g></svg>
<div class="a" style="left:1488px;top:2022px;width:30px;height:1.5px;background:#e3e6ea"></div>
<div class="t" style="left:1497px;top:2046px;font-size:16px;color:#222">›</div>
<!-- map bottom bar -->
<div class="t" style="left:1549px;top:2443px;font-size:11px;color:#333">▭</div>
<svg class="a" style="left:1576px;top:2442px;width:16px;height:16px"><use href="#ie"/></svg>
<div class="t" style="left:1600px;top:2441px;font-size:11.5px;color:#444">1: 500 000</div>
<div class="a" style="left:1662px;top:2448px;width:90px;height:8px;border:1.2px solid #444;border-top:none"></div>
<div class="t" style="left:1695px;top:2432px;font-size:11px;color:#444">5 км</div>
<div class="t" style="left:1765px;top:2441px;font-size:11px;color:#444">68° 59' 49.787" N &nbsp;&nbsp;70° 10' 45.456" E</div>
<div class="t" style="left:1946px;top:2456px;font-size:10px;color:#1c3a78">◢</div>
<!-- edit panel -->
<div class="a" style="left:1536px;top:1682px;width:415px;height:743px;background:#fff;border-radius:8px;box-shadow:0 2px 8px rgba(0,0,0,.1)"></div>
<div class="t" style="left:1560px;top:1717px;font-size:17px;line-height:22px;font-weight:bold;color:#1b1f27">Редакт. / создание геометрии*</div>
<div class="t" style="left:1560px;top:1740px;font-size:11.5px;line-height:16px;color:#555">*— коллекция геометрий</div>
<div class="hd" style="left:1560px;top:1770px;width:367px;height:2px;background:#e6e8ec"></div>
<div class="t" style="left:1560px;top:1783px;font-size:14px;color:#222">Координаты</div>
<div class="vd" style="left:1665px;top:1782px;height:22px"></div>
<div class="t" style="left:1678px;top:1782px;font-size:16px;color:#222">◉</div>
<div class="t" style="left:1771px;top:1781px;font-size:17px;color:#222">⇑</div>
<div class="t" style="left:1799px;top:1781px;font-size:17px;color:#222">⇓</div>
<div class="t" style="left:1840px;top:1779px;font-size:22px;color:#222">+</div>
<svg class="a" style="left:1870px;top:1784px;width:14px;height:18px"><use href="#trash"/></svg>
<div class="vd" style="left:1900px;top:1782px;height:22px"></div>
<div class="t" style="left:1910px;top:1782px;font-size:14px;color:#222;font-weight:bold">[+]</div>
<div class="hd" style="left:1536px;top:1812px;width:415px;height:2px;background:#e3e6ea"></div>
<div class="a" style="left:1726px;top:1807px;width:34px;height:11px;background:#e8eaee;border-radius:5px;font-size:10px;line-height:6px;text-align:center;color:#333">···</div>
<div class="a" style="left:1536px;top:1880px;width:415px;height:47px;background:#dde7e8"></div>
<div class="er" style="top:1840px"><span class="b1">1-1</span><span class="bx" style="left:45px;width:141px"><i style="width:40px">56⁰</i><i style="width:30px">58'</i><i style="width:68px">33.6855"</i></span><em style="left:190px">N</em><span class="bx" style="left:212px;width:140px"><i style="width:42px">35⁰</i><i style="width:28px">54'</i><i style="width:67px">38.8255"</i></span><em style="left:356px">E</em></div>
<div class="er hi" style="top:1887px"><span class="b1">1-2</span><span class="bx" style="left:45px;width:141px"><i style="width:40px">56⁰</i><i style="width:30px">58'</i><i style="width:68px">33.2355"</i></span><em style="left:190px">N</em><span class="bx" style="left:212px;width:140px"><i style="width:42px">35⁰</i><i style="width:28px">54'</i><i style="width:67px">40.0143"</i></span><em style="left:356px">E</em></div>
<div class="er" style="top:1935px"><span class="b1">1-3</span><span class="bx" style="left:45px;width:141px"><i style="width:40px">56⁰</i><i style="width:30px">58'</i><i style="width:68px">30.8922"</i></span><em style="left:190px">N</em><span class="bx" style="left:212px;width:140px"><i style="width:42px">35⁰</i><i style="width:28px">54'</i><i style="width:67px">38.5844"</i></span><em style="left:356px">E</em></div>
<div class="er" style="top:1982px"><span class="b1">1-4</span><span class="bx" style="left:45px;width:141px"><i style="width:40px">56⁰</i><i style="width:30px">58'</i><i style="width:68px">29.2322"</i></span><em style="left:190px">N</em><span class="bx" style="left:212px;width:140px"><i style="width:42px">35⁰</i><i style="width:28px">54'</i><i style="width:67px">52.6055"</i></span><em style="left:356px">E</em></div>
<div class="er" style="top:2030px"><span class="b1">1-5</span><span class="bx" style="left:45px;width:141px"><i style="width:40px">56⁰</i><i style="width:30px">58'</i><i style="width:68px">28.8922"</i></span><em style="left:190px">N</em><span class="bx" style="left:212px;width:140px"><i style="width:42px">35⁰</i><i style="width:28px">54'</i><i style="width:67px">60.6777"</i></span><em style="left:356px">E</em></div>
<div class="er" style="top:2077px"><span class="b1">1-6</span><span class="bx" style="left:45px;width:141px"><i style="width:40px">56⁰</i><i style="width:30px">58'</i><i style="width:68px">27.4542"</i></span><em style="left:190px">N</em><span class="bx" style="left:212px;width:140px"><i style="width:42px">35⁰</i><i style="width:28px">54'</i><i style="width:67px">63.3633"</i></span><em style="left:356px">E</em></div>
<div class="er" style="top:2124px"><span class="b1">1-7</span><span class="bx" style="left:45px;width:141px"><i style="width:40px">56⁰</i><i style="width:30px">58'</i><i style="width:68px">24.4534"</i></span><em style="left:190px">N</em><span class="bx" style="left:212px;width:140px"><i style="width:42px">35⁰</i><i style="width:28px">54'</i><i style="width:67px">66.3633"</i></span><em style="left:356px">E</em></div>
<div class="hd" style="left:1536px;top:2183px;width:415px;height:2px;background:#e3e6ea"></div>
<div class="a" style="left:1726px;top:2178px;width:34px;height:11px;background:#e8eaee;border-radius:5px;font-size:10px;line-height:6px;text-align:center;color:#333">···</div>
<div class="a" style="left:1560px;top:2209px;width:129px;height:48px;background:#0f8c85;border-radius:3px;color:#fff;font-size:15px;font-weight:bold;line-height:48px;text-align:center">Сохранить</div>
<div class="ib" style="left:1699px"><svg viewBox="0 0 20 20"><path d="M17 2 L3 9 L10 10 L11 18 Z" fill="none" stroke="#222" stroke-width="1.8"/></svg></div>
<div class="ib" style="left:1752px"><svg viewBox="0 0 20 20"><path d="M4 2 L12 10 L10 16 M8 12 L16 10" fill="none" stroke="#222" stroke-width="1.8"/><circle cx="14" cy="14" r="2.5" fill="none" stroke="#222" stroke-width="1.5"/></svg></div>
<div class="ib" style="left:1805px"><svg viewBox="0 0 20 20"><path d="M5 3 H12 A6 6 0 0 1 12 17 H5 M5 3 L8 0 M5 3 L8 6" fill="none" stroke="#222" stroke-width="1.8"/></svg></div>
<div class="ib" style="left:1858px"><svg viewBox="0 0 20 20"><path d="M3 3 L17 17 M17 3 L3 17" stroke="#222" stroke-width="2"/></svg></div>
<div class="hd" style="left:1536px;top:2389px;width:415px;height:2px;background:#e8eaee"></div>
<div class="t" style="left:1560px;top:2398px;font-size:11px;color:#a9adb8">СИСТЕМА КООРДИНАТ:</div>
<div class="a" style="left:1712px;top:2395px;width:85px;height:25px;border:1.5px solid #333;border-radius:3px;font-size:12px;line-height:22px;padding-left:8px;white-space:nowrap;color:#222">ГСК-2011 <span style="font-size:8px;margin-left:6px">▼</span></div>
<div class="a" style="left:1804px;top:2395px;width:122px;height:25px;border:1.5px solid #333;border-radius:3px;font-size:11.5px;line-height:22px;padding-left:8px;white-space:nowrap;color:#222">Град., мин., сек. <span style="font-size:8px;margin-left:6px">▼</span></div>

<!-- right side tables -->
<div class="t" style="left:1990px;top:1668px;font-size:14.5px;font-weight:bold;color:#1b1f27">Координаты условного центра объекта учёта</div>
<div class="a" style="left:1990px;top:1699px;width:1011px;height:131px;border:1.5px solid #e1e4ea;border-radius:6px"></div>
<div class="gl" style="left:2031px;top:1699px;width:1.5px;height:131px"></div>
<div class="gl" style="left:2131px;top:1742px;width:1.5px;height:88px"></div>
<div class="gl" style="left:2222px;top:1742px;width:1.5px;height:88px"></div>
<div class="gl" style="left:2327px;top:1699px;width:1.5px;height:131px"></div>
<div class="gl" style="left:2423px;top:1742px;width:1.5px;height:88px"></div>
<div class="gl" style="left:2514px;top:1742px;width:1.5px;height:88px"></div>
<div class="gl" style="left:2616px;top:1699px;width:1.5px;height:131px"></div>
<div class="gl" style="left:2733px;top:1699px;width:1.5px;height:131px"></div>
<div class="gl" style="left:2968px;top:1699px;width:1.5px;height:131px"></div>
<div class="gl" style="left:2031px;top:1742px;width:585px;height:1.5px"></div>
<div class="gl" style="left:1990px;top:1786px;width:1011px;height:1.5px"></div>
<div class="tx th" style="left:2001px;top:1733px">№</div>
<div class="tx th" style="left:2043px;top:1711px">Широта</div>
<div class="tx th" style="left:2340px;top:1711px">Долгота</div>
<div class="tx th" style="left:2043px;top:1755px">Градусы</div>
<div class="tx th" style="left:2143px;top:1755px">Минуты</div>
<div class="tx th" style="left:2234px;top:1755px">Секунды</div>
<div class="tx th" style="left:2340px;top:1755px">Градусы</div>
<div class="tx th" style="left:2436px;top:1755px">Минуты</div>
<div class="tx th" style="left:2527px;top:1755px">Секунды</div>
<div class="tx th" style="left:2629px;top:1724px">Система</div>
<div class="tx th" style="left:2629px;top:1743px">координат</div>
<div class="tx th" style="left:2745px;top:1734px">Координаты</div>
<div class="tx" style="left:2001px;top:1799px">1</div>
<div class="tx" style="left:2043px;top:1799px">56</div>
<div class="tx" style="left:2143px;top:1799px">12</div>
<div class="tx" style="left:2234px;top:1799px">12</div>
<div class="tx" style="left:2340px;top:1799px">35</div>
<div class="tx" style="left:2436px;top:1799px">12</div>
<div class="tx" style="left:2527px;top:1799px">12</div>
<div class="tx" style="left:2629px;top:1799px">ГСК-2011</div>
<div class="vb" style="left:2745px;top:1792px"><svg><use href="#vk"/></svg>Ввести координаты</div>
<svg class="a" style="left:2977px;top:1798px;width:15px;height:19px"><use href="#trash"/></svg>

<div class="t" style="left:1990px;top:1854px;font-size:14.5px;font-weight:bold;color:#1b1f27">Координаты объекта учёта</div>
<div class="a" style="left:1990px;top:1885px;width:1011px;height:197px;border:1.5px solid #e1e4ea;border-radius:6px"></div>
<div class="a" style="left:1990px;top:1928px;width:978px;height:44px;background:#dde7e8"></div>
<div class="gl" style="left:2031px;top:1885px;width:1.5px;height:175px"></div>
<div class="gl" style="left:2313px;top:1885px;width:1.5px;height:175px"></div>
<div class="gl" style="left:2557px;top:1885px;width:1.5px;height:175px"></div>
<div class="gl" style="left:2733px;top:1885px;width:1.5px;height:175px"></div>
<div class="gl" style="left:2968px;top:1885px;width:1.5px;height:197px"></div>
<div class="gl" style="left:1990px;top:1928px;width:1011px;height:1.5px"></div>
<div class="gl" style="left:1990px;top:1972px;width:978px;height:1.5px"></div>
<div class="gl" style="left:1990px;top:2016px;width:978px;height:1.5px"></div>
<div class="gl" style="left:1990px;top:2060px;width:978px;height:1.5px"></div>
<div class="tx th" style="left:2001px;top:1897px">№</div>
<div class="tx th" style="left:2043px;top:1897px">Название</div>
<div class="tx th" style="left:2325px;top:1897px">Вид геометрии</div>
<div class="tx th" style="left:2569px;top:1897px">Система координат</div>
<div class="tx th" style="left:2745px;top:1897px">Координаты</div>
<div class="tx" style="left:2001px;top:1941px">1</div><div class="tx" style="left:2043px;top:1941px">Беркино (1 часть)</div><div class="tx" style="left:2325px;top:1941px">ПОЛИГОН</div><div class="tx" style="left:2536px;top:1941px;font-size:9px;color:#1c3a78">▼</div><div class="tx" style="left:2569px;top:1941px">ГСК-2011</div><div class="tx" style="left:2711px;top:1941px;font-size:9px;color:#1c3a78">▼</div>
<div class="tx" style="left:2001px;top:1985px">2</div><div class="tx" style="left:2043px;top:1985px">Беркино (2 часть)</div><div class="tx" style="left:2325px;top:1985px">ПОЛИГОН</div><div class="tx" style="left:2536px;top:1985px;font-size:9px;color:#1c3a78">▼</div><div class="tx" style="left:2569px;top:1985px">ГСК-2011</div><div class="tx" style="left:2711px;top:1985px;font-size:9px;color:#1c3a78">▼</div>
<div class="tx" style="left:2001px;top:2029px">3</div><div class="tx" style="left:2043px;top:2029px">Беркино (3 часть)</div><div class="tx" style="left:2325px;top:2029px">ПОЛИГОН</div><div class="tx" style="left:2536px;top:2029px;font-size:9px;color:#1c3a78">▼</div><div class="tx" style="left:2569px;top:2029px">ГСК-2011</div><div class="tx" style="left:2711px;top:2029px;font-size:9px;color:#1c3a78">▼</div>
<div class="vb" style="left:2745px;top:1934px"><svg><use href="#vk"/></svg>Ввести координаты</div>
<div class="vb" style="left:2745px;top:1978px"><svg><use href="#vk"/></svg>Ввести координаты</div>
<div class="vb" style="left:2745px;top:2022px"><svg><use href="#vk"/></svg>Ввести координаты</div>
<svg class="a" style="left:1983px;top:1929px;width:12px;height:16px"><use href="#err"/></svg>
<svg class="a" style="left:1983px;top:2017px;width:12px;height:16px"><use href="#err"/></svg>
<svg class="a" style="left:2976px;top:1941px;width:18px;height:18px"><use href="#plusn"/></svg>
<svg class="a" style="left:2977px;top:1973px;width:15px;height:19px"><use href="#trash"/></svg>
<div class="t" style="left:2986px;top:2065px;font-size:9px;color:#1c3a78;line-height:12px">◢</div>

<div class="a" style="left:1990px;top:2095px;width:1011px;height:353px;border:1.5px solid #e1e4ea;border-radius:6px"></div>
<div class="a" style="left:1990px;top:2227px;width:978px;height:44px;background:#dde7e8"></div>
<div class="gl" style="left:2031px;top:2095px;width:1.5px;height:353px"></div>
<div class="gl" style="left:2183px;top:2139px;width:1.5px;height:309px"></div>
<div class="gl" style="left:2333px;top:2139px;width:1.5px;height:309px"></div>
<div class="gl" style="left:2491px;top:2095px;width:1.5px;height:353px"></div>
<div class="gl" style="left:2643px;top:2139px;width:1.5px;height:309px"></div>
<div class="gl" style="left:2799px;top:2139px;width:1.5px;height:309px"></div>
<div class="gl" style="left:2968px;top:2095px;width:1.5px;height:353px"></div>
<div class="gl" style="left:2031px;top:2139px;width:937px;height:1.5px"></div>
<div class="gl" style="left:1990px;top:2183px;width:1011px;height:1.5px"></div>
<div class="gl" style="left:1990px;top:2227px;width:978px;height:1.5px"></div>
<div class="gl" style="left:1990px;top:2271px;width:978px;height:1.5px"></div>
<div class="gl" style="left:1990px;top:2315px;width:978px;height:1.5px"></div>
<div class="gl" style="left:1990px;top:2359px;width:978px;height:1.5px"></div>
<div class="gl" style="left:1990px;top:2403px;width:978px;height:1.5px"></div>
<div class="tx th" style="left:2001px;top:2131px">№</div>
<div class="tx th" style="left:2043px;top:2108px">Широта</div>
<div class="tx th" style="left:2503px;top:2108px">Долгота</div>
<div class="tx th" style="left:2043px;top:2152px">Градусы</div>
<div class="tx th" style="left:2195px;top:2152px">Минуты</div>
<div class="tx th" style="left:2345px;top:2152px">Секунды</div>
<div class="tx th" style="left:2503px;top:2152px">Градусы</div>
<div class="tx th" style="left:2655px;top:2152px">Минуты</div>
<div class="tx th" style="left:2811px;top:2152px">Секунды</div>
<div class="tx" style="left:2001px;top:2196px">1</div><div class="tx" style="left:2043px;top:2196px">56</div><div class="tx" style="left:2195px;top:2196px">58</div><div class="tx" style="left:2345px;top:2196px">33.68</div><div class="tx" style="left:2503px;top:2196px">35</div><div class="tx" style="left:2655px;top:2196px">54</div><div class="tx" style="left:2811px;top:2196px">38.82</div>
<div class="tx" style="left:2001px;top:2240px">2</div><div class="tx" style="left:2043px;top:2240px">56</div><div class="tx" style="left:2195px;top:2240px">58</div><div class="tx" style="left:2345px;top:2240px">33.23</div><div class="tx" style="left:2503px;top:2240px">35</div><div class="tx" style="left:2655px;top:2240px">54</div><div class="tx" style="left:2811px;top:2240px">40.01</div>
<div class="tx" style="left:2001px;top:2284px">3</div><div class="tx" style="left:2043px;top:2284px">56</div><div class="tx" style="left:2195px;top:2284px">58</div><div class="tx" style="left:2345px;top:2284px">30.89</div><div class="tx" style="left:2503px;top:2284px">35</div><div class="tx" style="left:2655px;top:2284px">54</div><div class="tx" style="left:2811px;top:2284px">38.58</div>
<div class="tx" style="left:2001px;top:2328px">4</div><div class="tx" style="left:2043px;top:2328px">56</div><div class="tx" style="left:2195px;top:2328px">58</div><div class="tx" style="left:2345px;top:2328px">29.23</div><div class="tx" style="left:2503px;top:2328px">35</div><div class="tx" style="left:2655px;top:2328px">54</div><div class="tx" style="left:2811px;top:2328px">52.60</div>
<div class="tx" style="left:2001px;top:2372px">5</div><div class="tx" style="left:2043px;top:2372px">56</div><div class="tx" style="left:2195px;top:2372px">58</div><div class="tx" style="left:2345px;top:2372px">27.89</div><div class="tx" style="left:2503px;top:2372px">35</div><div class="tx" style="left:2655px;top:2372px">54</div><div class="tx" style="left:2811px;top:2372px">63.36</div>
<div class="tx" style="left:2001px;top:2416px;color:#8a8d94">6</div><div class="tx" style="left:2043px;top:2416px;color:#8a8d94">56</div><div class="tx" style="left:2195px;top:2416px;color:#8a8d94">58</div><div class="tx" style="left:2345px;top:2416px;color:#8a8d94">27.45</div><div class="tx" style="left:2503px;top:2416px;color:#8a8d94">35</div><div class="tx" style="left:2655px;top:2416px;color:#8a8d94">54</div><div class="tx" style="left:2811px;top:2416px;color:#8a8d94">66.36</div>
<svg class="a" style="left:2976px;top:2196px;width:18px;height:18px"><use href="#plusn"/></svg>
<svg class="a" style="left:2977px;top:2227px;width:15px;height:19px"><use href="#trash"/></svg>
<div class="t" style="left:2986px;top:2432px;font-size:9px;color:#1c3a78;line-height:12px">◢</div>
<div class="t" style="left:1990px;top:2459px;font-size:13px;font-style:italic;color:#c4391f">Примечание: один или несколько объектов учёта имеют ошибки топологии!</div>

<!-- notes -->
<div class="t" style="left:949px;top:2503px;font-size:14px;font-weight:bold;color:#1b1f27">Примечание выбранной версии</div>
<div class="t" style="left:1987px;top:2503px;font-size:14px;font-weight:bold;color:#1b1f27">Источник информации выбранной версии</div>
<div class="a" style="left:949px;top:2530px;width:1013px;height:180px;border:1.5px solid #dcdfe8;border-top:2.5px solid #d6d7ec;border-radius:6px"></div>
<div class="a" style="left:1987px;top:2530px;width:1014px;height:180px;border:1.5px solid #dcdfe8;border-top:2.5px solid #d6d7ec;border-radius:6px"></div>
<div class="t" style="left:960px;top:2543px;font-size:13px;line-height:19px;color:#333">Для групп координат "№1" участка "Беркино":<br>Вид картографического объекта - горный отвод.</div>
<div class="t" style="left:960px;top:2600px;font-size:13px;line-height:19px;color:#333">Примечание: примечание отсутствует.</div>
<div class="t" style="left:1998px;top:2543px;font-size:13px;line-height:19px;color:#333">Саранчин С.Н., "Оперативный подсчет запасов нефти и растворенного газа Беркинского нефтяного месторождения в<br>пределах Беркинского и Пончатинского лицензионных участков", ООО "ЭНГ", 2022 г.</div>
<div class="a" style="left:927px;top:2660px;width:2099px;height:29px;background:linear-gradient(rgba(255,255,255,0),rgba(248,249,250,.95))"></div>
<!-- footer w2 -->
<div class="a" style="left:790px;top:2689px;width:2276px;height:66px;background:linear-gradient(90deg,#2e3586,#1f4f86 40%,#0e7583 75%,#008c80);border-radius:0 0 14px 14px"></div>
<svg class="a" style="left:826px;top:2714px;width:20px;height:15px"><use href="#env"/></svg>
<div class="a" style="left:868px;top:2705px;width:1.5px;height:35px;background:rgba(255,255,255,.35)"></div>
<svg class="a" style="left:893px;top:2712px;width:18px;height:18px" viewBox="0 0 18 18"><path d="M4.5 4 A7 7 0 1 1 2.2 10.5 M1.5 2.5 L4.5 4 L3.5 7 M9 5.5 V9.5 H12" fill="none" stroke="#fff" stroke-width="1.4"/></svg>
<svg class="a" style="left:936px;top:2710px;width:16px;height:22px" viewBox="0 0 16 22"><rect x="1" y="5" width="10" height="15" fill="none" stroke="#fff" stroke-width="1.4"/><path d="M5 5 V1 H15 V16 H11" fill="none" stroke="#fff" stroke-width="1.4"/></svg>
<svg class="a" style="left:979px;top:2710px;width:16px;height:22px" viewBox="0 0 16 22"><rect x="1" y="1" width="14" height="20" fill="none" stroke="#fff" stroke-width="1.4"/><path d="M1 7 H15 M1 14 H15 M8 1 V21" stroke="#fff" stroke-width="1.2"/></svg>
<div class="t" style="left:1852px;top:2710px;font-size:18px;color:#fff">‹</div>
<div class="t" style="left:1905px;top:2711px;font-size:17px;font-weight:bold;color:#fff">06-11</div>
<div class="t" style="left:1995px;top:2710px;font-size:18px;color:#fff">›</div>
<div class="a" style="left:2730px;top:2703px;width:154px;height:39px;background:#0c2552;color:#fff;font-size:14px;line-height:39px;text-align:center">Сохранить</div>
<div class="a" style="left:2896px;top:2703px;width:43px;height:39px;background:#0c2552;color:#fff;font-size:18px;line-height:37px;text-align:center">→</div>
<div class="a" style="left:2963px;top:2705px;width:1.5px;height:35px;background:rgba(255,255,255,.35)"></div>
<div class="a" style="left:2987px;top:2703px;width:43px;height:39px;background:#b7301b"><svg style="position:absolute;left:14px;top:10px;width:15px;height:19px"><use href="#trashw"/></svg></div>

<!-- ================= MOBILE ================= -->
<div class="a" style="left:119px;top:2133px;width:561px;height:972px;background:#f7f8f8;border-radius:30px"></div>
<div class="a" style="left:133px;top:2147px;width:534px;height:875px;background:#fff;border-radius:20px 20px 0 0"></div>
<svg class="a" style="left:158px;top:2167px;width:63px;height:66px"><use href="#eagle"/></svg>
<svg class="a" style="left:248px;top:2180px;width:49px;height:48px"><use href="#rgf"/></svg>
<svg class="a" style="left:413px;top:2180px;width:40px;height:40px"><use href="#pdf"/></svg>
<div class="circ" style="left:479px;top:2176px"><svg style="left:12px;top:10px;width:24px;height:26px"><use href="#srch"/></svg></div>
<svg class="a" style="left:551px;top:2189px;width:24px;height:22px"><use href="#undo"/></svg>
<div class="ham" style="left:600px;top:2183px;width:41px"></div><div class="ham" style="left:600px;top:2198px;width:41px"></div><div class="ham" style="left:600px;top:2214px;width:41px"></div>
<div class="hd" style="left:198px;top:2254px;width:469px"></div>
<div class="a" style="left:133px;top:2255px;width:65px;height:111px;background:#dde6e8"></div>
<div class="t m" style="left:157px;top:2300px;font-size:16px;font-weight:bold;color:#1b1f27">Б</div>
<div class="t m" style="left:212px;top:2272px;font-size:13px;font-weight:bold;color:#1b1f27;letter-spacing:.4px">106 км - Дудинка-Но ...</div>
<div class="vd" style="left:430px;top:2255px;height:111px"></div>
<div class="t m" style="left:443px;top:2262px;font-size:14px;line-height:18px;color:#222;letter-spacing:.6px">Б-28067<br>Б-52246</div>
<div class="vd" style="left:528px;top:2255px;height:56px"></div>
<div class="t m" style="left:542px;top:2262px;font-size:14px;line-height:18px;color:#222;letter-spacing:.6px">Паспорт Г...<br>2019</div>
<div class="hd" style="left:198px;top:2311px;width:469px"></div>
<div class="a" style="left:213px;top:2318px;width:202px;height:40px;border:1px solid #e3e6ea;border-radius:6px"></div>
<div class="a" style="left:217px;top:2322px;width:140px;height:32px;background:linear-gradient(90deg,#dde6e8 75%,#fff);border-radius:3px"></div>
<div class="t m" style="left:225px;top:2328px;font-size:13px;color:#444;letter-spacing:.6px">Забайкальский</div>
<div class="t" style="left:372px;top:2328px;font-size:9px;color:#1c3a78">▼</div>
<div class="t" style="left:395px;top:2328px;font-size:11px;color:#1c3a78">✖</div>
<div class="t m" style="left:443px;top:2327px;font-size:13.5px;color:#1c3a78;letter-spacing:.5px;border-bottom:1.5px dotted #1c3a78;line-height:18px">действую...</div>
<svg class="a" style="left:553px;top:2331px;width:22px;height:15px"><use href="#swap"/></svg>
<div class="vd" style="left:587px;top:2311px;height:55px"></div>
<svg class="a" style="left:600px;top:2329px;width:20px;height:18px"><use href="#cb"/></svg>
<svg class="a" style="left:632px;top:2329px;width:20px;height:18px"><use href="#cb"/></svg>
<div class="a" style="left:133px;top:2366px;width:534px;height:656px;background:#fff"></div>
<div class="a" style="left:133px;top:2366px;width:534px;height:30px;background:linear-gradient(rgba(150,160,185,.22),rgba(150,160,185,0))"></div>
<div class="a" style="left:149px;top:2366px;width:1.5px;height:656px;background:#e3e6ea"></div>
<div class="a" style="left:137px;top:2395px;width:24px;height:22px;background:#fff;border:1px solid #d6dbe3;border-radius:4px;font-size:14px;line-height:19px;text-align:center;color:#1c3a78">›</div>
<div class="t m" style="left:184px;top:2392px;font-size:19px;line-height:24px;font-weight:bold;color:#1b1f27;letter-spacing:.4px">Титульный лист</div>
<div class="hd" style="left:184px;top:2431px;width:449px"></div>
<div class="ml m" style="top:2460px">Год актуализации</div>
<div class="mi m" style="top:2489px">2022<span class="dd">▼</span></div>
<div class="ml m" style="top:2560px">№ РГФ</div>
<div class="mi m" style="top:2590px">Б-28067</div>
<div class="ml m" style="top:2662px">№ ТФГИ</div>
<div class="mi m" style="top:2692px">Б-52246</div>
<div class="ml m" style="top:2765px">Гриф</div>
<div class="mi m" style="top:2794px">ДСП (для служебного пользования)<span class="dd">▼</span></div>
<div class="ml m" style="top:2867px">Степень промышленного освоения</div>
<div class="mi m" style="top:2896px">Совокупное промышленное освоение месторо...</div>
<div class="ml m" style="top:2968px">Основные полезные ископаемые</div>
<div class="a" style="left:184px;top:2998px;width:449px;height:30px;border:1.5px solid #dadde5;border-radius:4px;overflow:hidden"><div class="t m" style="left:5px;top:4px;width:318px;height:26px;background:#dde6e8;border-radius:3px;font-size:13px;letter-spacing:1.2px;padding-left:8px;line-height:26px;color:#333">серебро (россыпь золота (1) р.Змеевки) ✖</div><div class="t m" style="left:328px;top:4px;width:120px;height:26px;background:#dde6e8;border-radius:3px;font-size:13px;letter-spacing:1.2px;padding-left:8px;line-height:26px;color:#333">золо✖</div></div>
<div class="a" style="left:133px;top:3022px;width:534px;height:72px;background:linear-gradient(90deg,#2e3586,#1f4f86 45%,#0e7583 80%,#008c80);border-radius:0 0 14px 14px"></div>
<svg class="a" style="left:159px;top:3050px;width:24px;height:17px"><use href="#env"/></svg>
<div class="a" style="left:193px;top:3043px;width:1.5px;height:28px;background:rgba(255,255,255,.4)"></div>
<div class="a" style="left:206px;top:3047px;width:23px;height:23px;border:1.5px solid #fff;border-radius:50%;color:#fff;font-size:11px;line-height:14px;text-align:center">•••</div>
<div class="t" style="left:320px;top:3046px;font-size:20px;color:#fff">‹</div>
<div class="t m" style="left:349px;top:3047px;font-size:16px;line-height:22px;font-weight:bold;color:#fff;letter-spacing:.6px">Титул - 05</div>
<div class="t" style="left:468px;top:3046px;font-size:20px;color:#fff">›</div>
<div class="a" style="left:536px;top:3038px;width:46px;height:40px;background:#0c2552"><svg style="position:absolute;left:12px;top:10px;width:22px;height:20px" viewBox="0 0 22 20"><rect x="1" y="1" width="20" height="18" fill="none" stroke="#fff" stroke-width="1.5"/><path d="M5 19 V12 H17 V19 M5 1 V6 H15 V1" fill="none" stroke="#fff" stroke-width="1.4"/></svg></div>
<div class="a" style="left:595px;top:3038px;width:46px;height:40px;background:#b7301b"><svg style="position:absolute;left:14px;top:9px;width:17px;height:21px"><use href="#trashw"/></svg></div>

<!-- ================= WINDOW 3 ================= -->
<div class="a" style="left:1649px;top:2963px;width:1026px;height:422px;background:#f7f8f8;border-radius:34px 34px 0 0"></div>
<div class="a" style="left:1662px;top:2977px;width:999px;height:183px;background:#fff;border-radius:18px 18px 0 0"></div>
<div class="hd" style="left:1662px;top:3086px;width:999px"></div>
<svg class="a" style="left:1686px;top:2997px;width:64px;height:69px"><use href="#eagle"/></svg>
<svg class="a" style="left:1777px;top:3010px;width:50px;height:50px"><use href="#rgf"/></svg>
<div class="a" style="left:1985px;top:3007px;width:506px;height:49px;border:1.5px solid #e6e9ee;border-radius:25px"></div>
<div class="t" style="left:2011px;top:3022px;font-size:13.5px;color:#333">Выбранные поля (<span style="color:#0b8f85;font-weight:bold">3</span>)</div>
<svg class="a" style="left:2181px;top:3024px;width:17px;height:17px"><use href="#gear"/></svg>
<div class="vd" style="left:2211px;top:3008px;height:47px"></div>
<div class="t" style="left:2238px;top:3021px;font-size:16px;color:#444">Поиск</div>
<div class="vd" style="left:2425px;top:3008px;height:47px"></div>
<svg class="a" style="left:2444px;top:3018px;width:26px;height:28px"><use href="#srch"/></svg>
<div class="circ" style="left:2507px;top:3008px"><svg style="left:13px;top:12px;width:22px;height:24px"><use href="#map"/></svg></div>
<div class="ham" style="left:2594px;top:3013px;width:42px"></div><div class="ham" style="left:2594px;top:3029px;width:42px"></div><div class="ham" style="left:2594px;top:3045px;width:42px"></div>
<div class="circ" style="left:1688px;top:3099px"><svg viewBox="0 0 20 22"><g fill="none" stroke="#1c3a78" stroke-width="1.4"><path d="M1 6 V1 H6 M14 1 H19 V6 M19 16 V21 H14 M6 21 H1 V16"/><rect x="6" y="5" width="8" height="4"/><rect x="6" y="12" width="8" height="4"/></g></svg></div>
<div class="badge" style="left:1724px;top:3094px">3</div>
<div class="vd" style="left:1764px;top:3087px;height:73px"></div>
<div class="circ" style="left:1791px;top:3099px"><svg><use href="#flt"/></svg></div>
<div class="badge" style="left:1827px;top:3094px">2</div>
<div class="vd" style="left:1867px;top:3087px;height:73px"></div>
<div class="a" style="left:1895px;top:3100px;width:259px;height:48px;border:1.5px solid #e8ebef;border-radius:24px"></div>
<div class="t nv" style="left:1920px;top:3114px;font-size:14px">По дате создания</div>
<svg class="a" style="left:2094px;top:3113px;width:19px;height:21px"><use href="#bars"/></svg>
<div class="t nv" style="left:2128px;top:3115px;font-size:10px">▼</div>
<div class="circ" style="left:2170px;top:3100px;background:#dde6e8;border-color:#dde6e8"><svg style="left:14px;top:14px;width:20px;height:20px"><use href="#grid"/></svg></div>
<div class="circ" style="left:2233px;top:3100px"><svg style="left:14px;top:14px;width:20px;height:20px"><use href="#list"/></svg></div>
<div class="vd" style="left:2308px;top:3087px;height:73px"></div>
<div class="circ" style="left:2336px;top:3100px"><svg><use href="#xls"/></svg></div>
<div class="vd" style="left:2411px;top:3087px;height:73px"></div>
<div class="circ" style="left:2438px;top:3100px"><svg style="left:12px;top:12px;width:22px;height:22px"><use href="#plus"/></svg></div>
<div class="t nv" style="left:2501px;top:3104px;font-size:16px;line-height:22px">Создать новый<br>паспорт</div>
<div class="a" style="left:1662px;top:3160px;width:999px;height:225px;background:#e6ebf2"></div>
<div class="a" style="left:1662px;top:3160px;width:999px;height:36px;background:linear-gradient(#d3dbe6,#e6ebf2)"></div>
<div class="card sc" style="left:1739px;top:3199px;height:160px;border-radius:5px 5px 0 0"><b class="ct">Аграфенское</b><svg class="ie"><use href="#ie"/></svg><svg class="ix"><use href="#ix"/></svg><i class="hl h1"></i><p class="l ya">Массив:</p><p class="v ya">Б</p><p class="l yb">Номер РГФ:</p><p class="v yb">Б-28067</p><p class="l yc">Номер ТФГИ:</p><p class="v yc">Б-52246</p><i class="hl h2"></i></div>
<div class="card sc" style="left:2169px;top:3199px;height:160px;border-radius:5px 5px 0 0"><b class="ct">Акимбетовское</b><svg class="ie"><use href="#ie"/></svg><svg class="ix"><use href="#ix"/></svg><i class="hl h1"></i><p class="l ya">Массив:</p><p class="v ya">Б</p><p class="l yb">Номер РГФ:</p><p class="v yb">Б-56785</p><p class="l yc">Номер ТФГИ:</p><p class="v yc">Б-56745</p><i class="hl h2"></i></div>
</div>
</body></html>
